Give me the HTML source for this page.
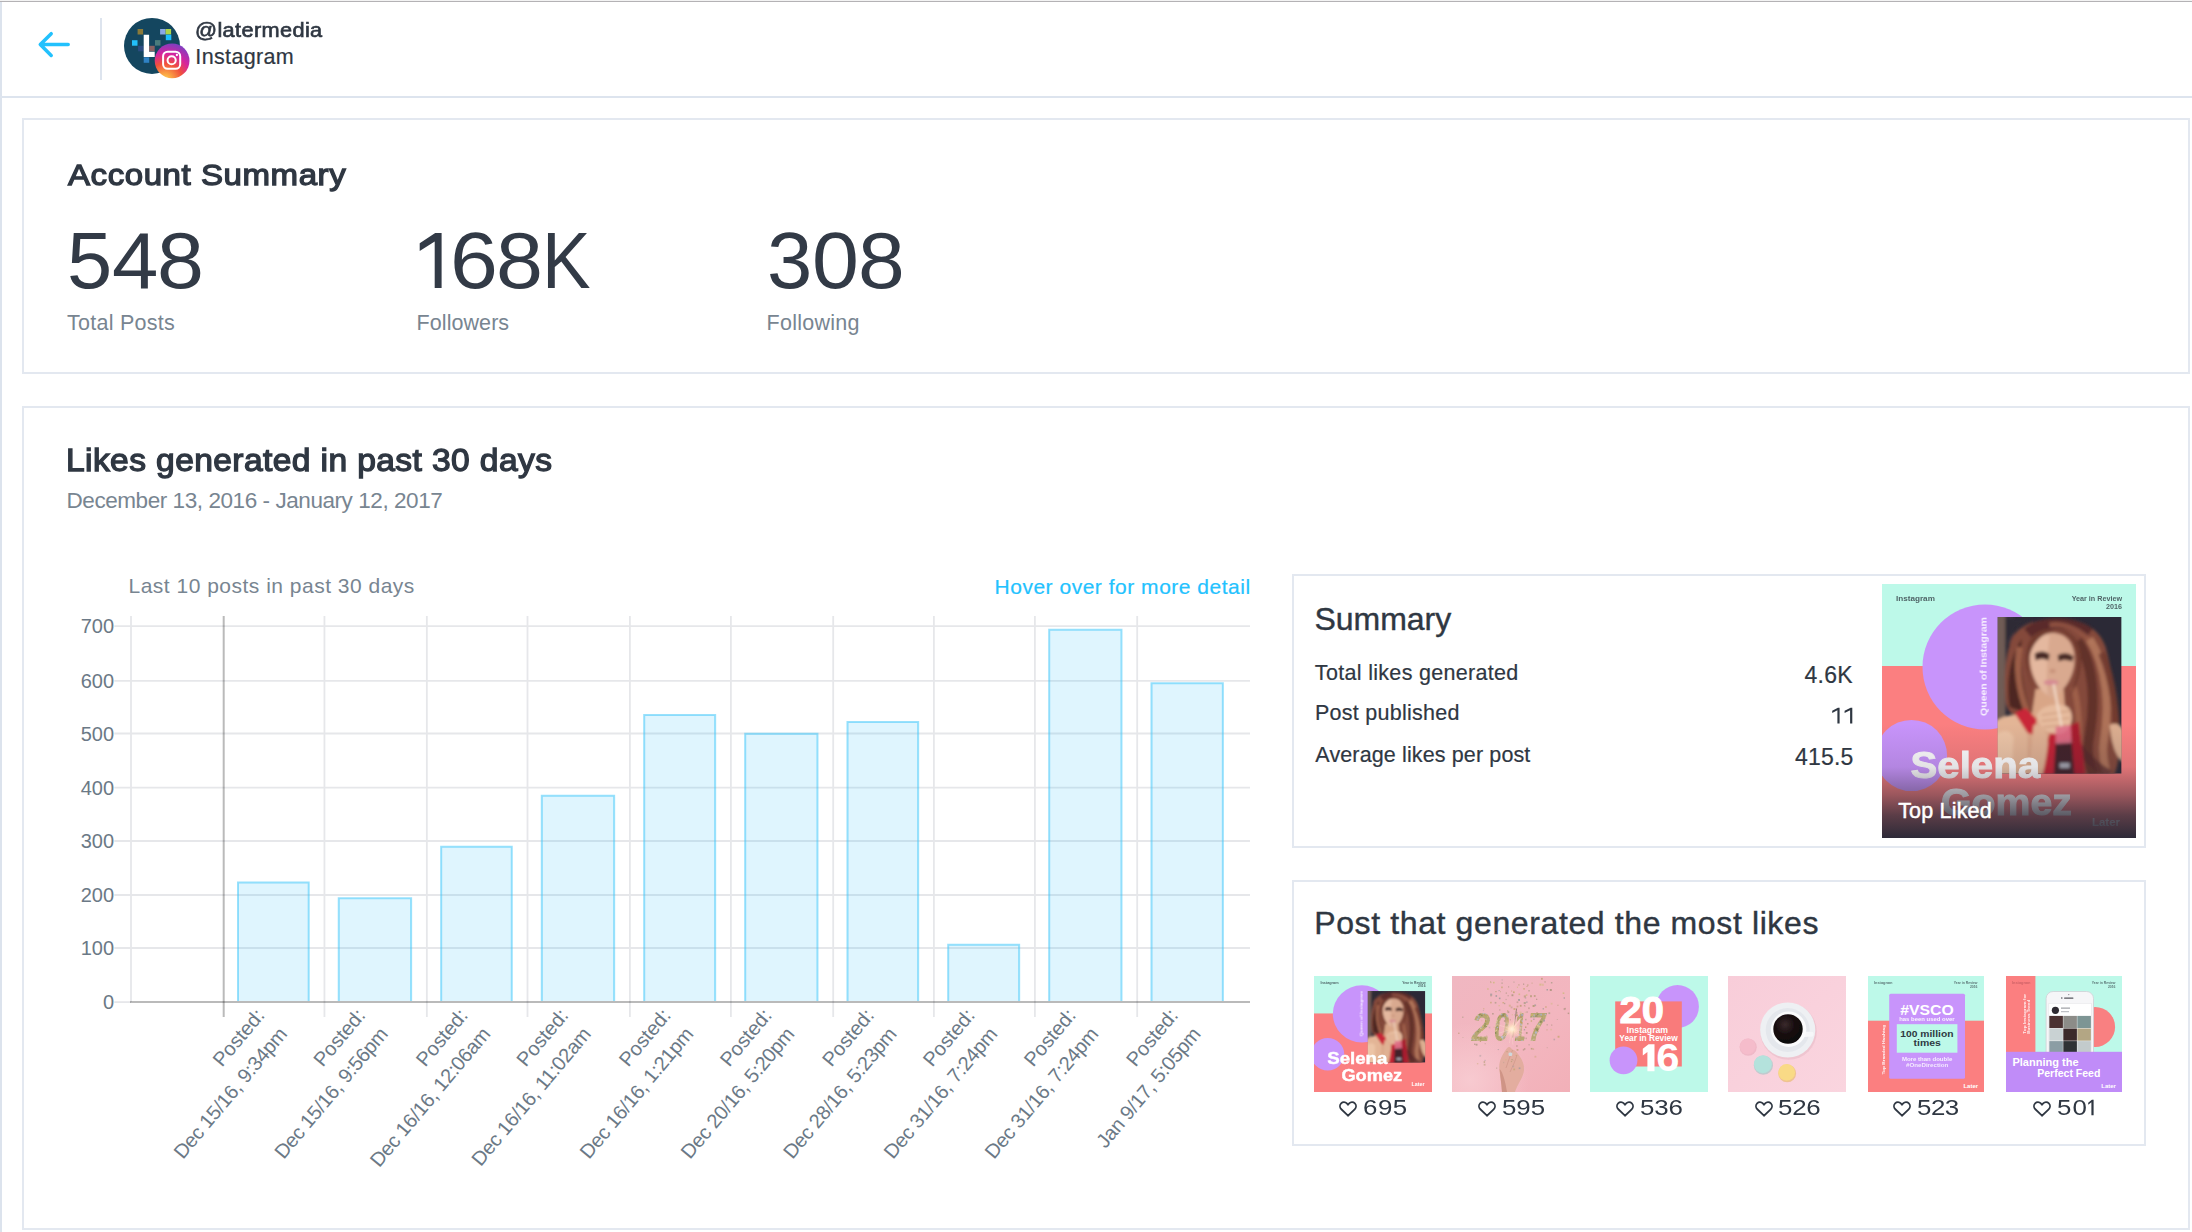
<!DOCTYPE html>
<html><head><meta charset="utf-8"><title>Analytics</title>
<style>
html,body{margin:0;padding:0;background:#fff}
body{width:2192px;height:1232px;position:relative;overflow:hidden;font-family:"Liberation Sans",sans-serif}
.t{position:absolute;top:0;white-space:nowrap;line-height:0}
.t i{display:inline-block;width:0}
.card{position:absolute;border:2px solid #e3e8f0;background:#fff}
svg{display:block}
svg text{font-family:"Liberation Sans",sans-serif}
</style></head><body>
<div style="position:absolute;left:0;top:0;width:2192px;height:1px;background:#f3f3f3"></div><div style="position:absolute;left:0;top:1px;width:2192px;height:1px;background:#b4b2b5"></div>
<div style="position:absolute;left:0;top:2px;width:2px;height:1230px;background:#dce3ed"></div>
<div style="position:absolute;left:0;top:96px;width:2192px;height:2px;background:#dde4ee"></div>
<div style="position:absolute;left:100px;top:18px;width:2px;height:62px;background:#dde4ee"></div>
<svg style="position:absolute;left:30px;top:24px" width="48" height="42" viewBox="30 24 48 42"><path d="M68.2 44.6H40.3M51.2 33.7L40.3 44.6L51.2 55.5" fill="none" stroke="#22c1fd" stroke-width="3.5" stroke-linecap="round" stroke-linejoin="round"/></svg>
<div class="card" style="left:22px;top:118px;width:2164px;height:252px"></div>
<div class="card" style="left:22px;top:406px;width:2164px;height:820px"></div>
<div class="card" style="left:1292px;top:574px;width:850px;height:270px"></div>
<div class="card" style="left:1292px;top:880px;width:850px;height:262px"></div>
<div class="t" style="font-size:20.5px;color:#2f3742;letter-spacing:0.344px;left:195.22px;transform:scaleX(1.0600);transform-origin:0 0;-webkit-text-stroke:.65px #2f3742;"><i style="height:37.20px"></i>@latermedia</div>
<div class="t" style="font-size:21.5px;color:#2f3742;letter-spacing:0.346px;left:195.37px;-webkit-text-stroke:.2px #2f3742;"><i style="height:63.80px"></i>Instagram</div>
<div class="t" style="font-size:30px;color:#2f3742;letter-spacing:0.525px;left:68.00px;transform:scaleX(1.1000);transform-origin:0 0;-webkit-text-stroke:1.3px #2f3742;"><i style="height:185.10px"></i>Account Summary</div>
<div class="t" style="font-size:80.5px;color:#323a46;left:67.35px;transform:scaleX(1.0095);transform-origin:0 0;"><i style="height:287.90px"></i>5</div><div class="t" style="font-size:80.5px;color:#323a46;left:112.02px;transform:scaleX(1.0356);transform-origin:0 0;"><i style="height:287.90px"></i>4</div><div class="t" style="font-size:80.5px;color:#323a46;left:157.41px;transform:scaleX(1.0490);transform-origin:0 0;"><i style="height:287.90px"></i>8</div>
<div class="t" style="font-size:80.5px;color:#323a46;left:449.50px;transform:scaleX(1.0690);transform-origin:0 0;"><i style="height:287.90px"></i>6</div><div class="t" style="font-size:80.5px;color:#323a46;left:496.11px;transform:scaleX(1.0490);transform-origin:0 0;"><i style="height:287.90px"></i>8</div><div class="t" style="font-size:80.5px;color:#323a46;left:541.97px;transform:scaleX(0.9056);transform-origin:0 0;"><i style="height:287.90px"></i>K</div>
<svg style="position:absolute;left:415px;top:230px" width="30" height="60" viewBox="415 230 30 60"><path d="M441.6 233.1H435.2L419.7 243.3V251.1L434.7 241.4V288H441.6Z" fill="#323a46"/></svg>
<div class="t" style="font-size:80.5px;color:#323a46;left:766.64px;transform:scaleX(1.0121);transform-origin:0 0;"><i style="height:287.90px"></i>3</div><div class="t" style="font-size:80.5px;color:#323a46;left:811.84px;transform:scaleX(1.0481);transform-origin:0 0;"><i style="height:287.90px"></i>0</div><div class="t" style="font-size:80.5px;color:#323a46;left:858.23px;transform:scaleX(1.0437);transform-origin:0 0;"><i style="height:287.90px"></i>8</div>
<div class="t" style="font-size:21.5px;color:#788591;letter-spacing:0.259px;left:66.97px;"><i style="height:329.60px"></i>Total Posts</div>
<div class="t" style="font-size:21.5px;color:#788591;letter-spacing:0.069px;left:416.58px;"><i style="height:329.60px"></i>Followers</div>
<div class="t" style="font-size:21.5px;color:#788591;letter-spacing:0.248px;left:766.58px;"><i style="height:329.60px"></i>Following</div>
<div class="t" style="font-size:32px;color:#2f3742;letter-spacing:0.366px;left:66.21px;transform:scaleX(1.0500);transform-origin:0 0;-webkit-text-stroke:1.3px #2f3742;"><i style="height:471.30px"></i>Likes generated in past 30 days</div>
<div class="t" style="font-size:22.5px;color:#788591;letter-spacing:-0.435px;left:66.50px;"><i style="height:508.00px"></i>December 13, 2016 - January 12, 2017</div>
<div class="t" style="font-size:21px;color:#788591;letter-spacing:0.493px;left:128.52px;"><i style="height:593.40px"></i>Last 10 posts in past 30 days</div>
<div class="t" style="font-size:21px;color:#23c2fe;letter-spacing:0.515px;left:994.52px;-webkit-text-stroke:.2px #23c2fe;"><i style="height:593.60px"></i>Hover over for more detail</div>
<div class="t" style="font-size:32px;color:#2f3742;letter-spacing:-0.040px;left:1314.56px;-webkit-text-stroke:.4px #2f3742;"><i style="height:630.20px"></i>Summary</div>
<div class="t" style="font-size:21.5px;color:#2f3742;letter-spacing:0.313px;left:1314.87px;-webkit-text-stroke:.2px #2f3742;"><i style="height:680.00px"></i>Total likes generated</div>
<div class="t" style="font-size:21.5px;color:#2f3742;letter-spacing:0.279px;left:1314.88px;-webkit-text-stroke:.2px #2f3742;"><i style="height:719.70px"></i>Post published</div>
<div class="t" style="font-size:21.5px;color:#2f3742;letter-spacing:0.128px;left:1315.30px;-webkit-text-stroke:.2px #2f3742;"><i style="height:762.00px"></i>Average likes per post</div>
<div class="t" style="font-size:23px;color:#2f3742;letter-spacing:0.342px;left:1804.38px;-webkit-text-stroke:.2px #2f3742;"><i style="height:683.10px"></i>4.6K</div>
<svg style="position:absolute;left:1830px;top:705px" width="13" height="21" viewBox="1830 705 13 21"><path d="M1839.60 707.80L1837.90 707.80L1832.20 710.72L1832.20 712.93L1837.40 710.27L1837.40 723.60L1839.60 723.60Z" fill="#2f3742"/></svg><svg style="position:absolute;left:1842px;top:705px" width="13" height="21" viewBox="1842 705 13 21"><path d="M1852.30 707.80L1850.60 707.80L1844.60 710.72L1844.60 712.93L1850.10 710.26L1850.10 723.60L1852.30 723.60Z" fill="#2f3742"/></svg>
<div class="t" style="font-size:23px;color:#2f3742;letter-spacing:0.245px;left:1794.88px;-webkit-text-stroke:.2px #2f3742;"><i style="height:765.20px"></i>415.5</div>
<div class="t" style="font-size:32px;color:#2f3742;letter-spacing:0.616px;left:1314.24px;-webkit-text-stroke:.4px #2f3742;"><i style="height:934.00px"></i>Post that generated the most likes</div>
<svg style="position:absolute;left:60px;top:600px" width="1210" height="600" viewBox="60 600 1210 600">
<g stroke="#e6e7ea" stroke-width="1.8">
<path d="M131 616V1002.1"/>
<path d="M324.45 616V1017"/>
<path d="M426.86 616V1017"/>
<path d="M527.50 616V1017"/>
<path d="M629.90 616V1017"/>
<path d="M730.90 616V1017"/>
<path d="M833.20 616V1017"/>
<path d="M933.90 616V1017"/>
<path d="M1034.90 616V1017"/>
<path d="M1137.20 616V1017"/>
<path d="M114.3 948.00H1250"/>
<path d="M114.3 895.00H1250"/>
<path d="M114.3 841.00H1250"/>
<path d="M114.3 787.60H1250"/>
<path d="M114.3 733.50H1250"/>
<path d="M114.3 680.80H1250"/>
<path d="M114.3 626.10H1250"/>
<path d="M114.3 1002.1H131"/>
</g>
<g stroke="#000" stroke-opacity="0.27" stroke-width="2"><path d="M223.7 616V1017"/><path d="M130 1002.1H1250"/></g>
<path d="M238.00 1001.1V882.62H308.70V1001.1" fill="rgba(41,190,247,0.15)" stroke="rgba(60,198,250,0.52)" stroke-width="2"/>
<path d="M338.75 1001.1V898.15H411.11V1001.1" fill="rgba(41,190,247,0.15)" stroke="rgba(60,198,250,0.52)" stroke-width="2"/>
<path d="M441.16 1001.1V846.72H511.75V1001.1" fill="rgba(41,190,247,0.15)" stroke="rgba(60,198,250,0.52)" stroke-width="2"/>
<path d="M541.80 1001.1V795.82H614.15V1001.1" fill="rgba(41,190,247,0.15)" stroke="rgba(60,198,250,0.52)" stroke-width="2"/>
<path d="M644.20 1001.1V714.91H715.15V1001.1" fill="rgba(41,190,247,0.15)" stroke="rgba(60,198,250,0.52)" stroke-width="2"/>
<path d="M745.20 1001.1V733.66H817.45V1001.1" fill="rgba(41,190,247,0.15)" stroke="rgba(60,198,250,0.52)" stroke-width="2"/>
<path d="M847.50 1001.1V721.88H918.15V1001.1" fill="rgba(41,190,247,0.15)" stroke="rgba(60,198,250,0.52)" stroke-width="2"/>
<path d="M948.20 1001.1V944.77H1019.15V1001.1" fill="rgba(41,190,247,0.15)" stroke="rgba(60,198,250,0.52)" stroke-width="2"/>
<path d="M1049.20 1001.1V629.72H1121.45V1001.1" fill="rgba(41,190,247,0.15)" stroke="rgba(60,198,250,0.52)" stroke-width="2"/>
<path d="M1151.50 1001.1V683.30H1222.85V1001.1" fill="rgba(41,190,247,0.15)" stroke="rgba(60,198,250,0.52)" stroke-width="2"/>
<g font-size="20" fill="#6b7986" text-anchor="end">
<text x="114.1" y="1009.10">0</text>
<text x="114.1" y="955.00">100</text>
<text x="114.1" y="902.00">200</text>
<text x="114.1" y="848.00">300</text>
<text x="114.1" y="794.60">400</text>
<text x="114.1" y="740.50">500</text>
<text x="114.1" y="687.80">600</text>
<text x="114.1" y="633.10">700</text>
</g>
<g font-size="20" fill="#6b7986" text-anchor="end">
<g transform="translate(265.60 1015.9) rotate(-50)"><text x="0" y="0">Posted:</text><text x="0" y="29.3" letter-spacing="-0.32">Dec 15/16, 9:34pm</text></g>
<g transform="translate(366.35 1015.9) rotate(-50)"><text x="0" y="0">Posted:</text><text x="0" y="29.3" letter-spacing="-0.32">Dec 15/16, 9:56pm</text></g>
<g transform="translate(468.76 1015.9) rotate(-50)"><text x="0" y="0">Posted:</text><text x="0" y="29.3" letter-spacing="-0.32">Dec 16/16, 12:06am</text></g>
<g transform="translate(569.40 1015.9) rotate(-50)"><text x="0" y="0">Posted:</text><text x="0" y="29.3" letter-spacing="-0.32">Dec 16/16, 11:02am</text></g>
<g transform="translate(671.80 1015.9) rotate(-50)"><text x="0" y="0">Posted:</text><text x="0" y="29.3" letter-spacing="-0.32">Dec 16/16, 1:21pm</text></g>
<g transform="translate(772.80 1015.9) rotate(-50)"><text x="0" y="0">Posted:</text><text x="0" y="29.3" letter-spacing="-0.32">Dec 20/16, 5:20pm</text></g>
<g transform="translate(875.10 1015.9) rotate(-50)"><text x="0" y="0">Posted:</text><text x="0" y="29.3" letter-spacing="-0.32">Dec 28/16, 5:23pm</text></g>
<g transform="translate(975.80 1015.9) rotate(-50)"><text x="0" y="0">Posted:</text><text x="0" y="29.3" letter-spacing="-0.32">Dec 31/16, 7:24pm</text></g>
<g transform="translate(1076.80 1015.9) rotate(-50)"><text x="0" y="0">Posted:</text><text x="0" y="29.3" letter-spacing="-0.32">Dec 31/16, 7:24pm</text></g>
<g transform="translate(1179.10 1015.9) rotate(-50)"><text x="0" y="0">Posted:</text><text x="0" y="29.3" letter-spacing="-0.32">Jan 9/17, 5:05pm</text></g>
</g>
</svg>
<svg style="position:absolute;left:1314px;top:976px" width="118" height="116" viewBox="0 0 118 116"><svg width="118" height="116" viewBox="0 0 254 254" preserveAspectRatio="none"><rect width="254" height="254" fill="#fb7f80"/><rect width="254" height="82" fill="#bdf9e9"/>
<circle cx="103" cy="83" r="62.5" fill="#c894fb"/><circle cx="29.5" cy="171.5" r="35.6" fill="#c894fb"/>
<text transform="translate(104.6 132) rotate(-90)" font-size="9.2" font-weight="700" fill="#fff" opacity=".85" filter="url(#b1)" textLength="99" lengthAdjust="spacingAndGlyphs">Queen of Instagram</text>
<g transform="translate(115.6 33)"><g clip-path="url(#phc)">
<rect width="124" height="157" fill="#2b2936"/>
<g filter="url(#b3)">
<rect x="-3" y="-3" width="11" height="106" fill="#6f5b55"/>
<rect x="8" y="-3" width="8" height="30" fill="#37323c"/>
<path d="M8 30C12 14 24 4 40 2L8 2Z" fill="#2f2a34"/>
<path d="M14 22C22 6 44 1 62 2C86 3 102 12 108 30C114 52 118 80 121 104C124 124 122 146 116 160L62 160L60 96L36 100C24 104 10 100 8 84C6 60 8 38 14 22Z" fill="#84483a"/>
<path d="M12 90C8 66 12 40 24 22C22 44 24 70 34 98Z" fill="#4e2722"/>
<path d="M22 30C18 52 22 76 30 96" fill="none" stroke="#a9674e" stroke-width="6" opacity=".85"/>
<path d="M30 16C44 4 72 2 92 16" fill="none" stroke="#55292a" stroke-width="11" opacity=".9"/>
<path d="M52 8C66 6 84 12 96 28" fill="none" stroke="#9a5a46" stroke-width="5" opacity=".8"/>
<path d="M80 24C96 46 98 84 92 118C88 136 92 150 96 160" fill="none" stroke="#5a2b27" stroke-width="10" opacity=".8"/>
<path d="M92 22C110 50 112 92 106 126C104 140 108 152 110 160" fill="none" stroke="#b57a5e" stroke-width="8" opacity=".85"/>
<path d="M104 36C116 64 120 100 118 130" fill="none" stroke="#6e382e" stroke-width="7" opacity=".85"/>
<path d="M76 70C84 96 80 128 84 160" fill="none" stroke="#a5644c" stroke-width="6" opacity=".8"/>
<path d="M70 112C76 130 98 150 112 158" fill="none" stroke="#55282a" stroke-width="9" opacity=".7"/>
<path d="M112 108C120 104 128 110 128 124L128 146C120 144 114 130 112 108Z" fill="#dcae90"/>
<path d="M-4 106C6 97 24 95 32 102C36 120 36 140 40 160L-4 160Z" fill="#e3b596"/>
<path d="M-4 120C4 112 12 112 16 120L14 160L-4 160Z" fill="#ecc4a6"/>
<path d="M30 96L70 94L78 160L30 160Z" fill="#d9a688"/>
<path d="M38 72L66 72L68 100L34 100Z" fill="#d9a687"/>
<path d="M32 40C32 24 42 16 55 16C68 16 77 26 77 42C77 58 68 74 54 81C42 76 32 58 32 40Z" fill="#d9a98f"/>
<path d="M33 40C33 26 42 18 52 18C50 36 48 56 50 78C40 72 33 56 33 40Z" fill="#e4b89f"/>
<path d="M57 14C46 16 34 24 31 44C30 54 33 64 36 72C30 60 24 40 32 24C38 14 48 10 57 14Z" fill="#6f3a2f"/>
<path d="M57 14C70 14 80 24 80 44C80 58 76 70 72 80C84 62 88 36 78 22C72 14 64 12 57 14Z" fill="#6f3a2f"/>
<path d="M37 37C42 33.5 48 34 52 37.5L51 43.5C47 41.5 42 41.5 38 43.5Z" fill="#4a2a26"/>
<path d="M60 38.5C65 35 71 35.5 76 39.5L74.5 44.5C70 42.5 65 42.5 61 44.5Z" fill="#4a2a26"/>
<ellipse cx="55" cy="54" rx="3" ry="2.2" fill="#c8937a"/>
<ellipse cx="53.5" cy="65.5" rx="7.5" ry="2.8" fill="#d58a92"/>
<path d="M17 96L28 91L39 102L37 118L30 116Z" fill="#c92838"/>
<path d="M52 117L81 105L88 160L43 160L47 131Z" fill="#c32434"/>
<path d="M64 112L81 105L88 160L70 160Z" fill="#a81d2e"/>
<path d="M39 98C44 88 60 85 70 90C77 96 75 110 66 116C54 120 40 112 39 98Z" fill="#e6bb9e"/>
<path d="M36 108C44 106 52 116 50 130C48 146 46 154 44 160L30 160C34 140 34 122 36 108Z" fill="#e0b193"/>
<path d="M44 98L72 94M44 104L72 101M46 110L70 108" stroke="#c99476" stroke-width="1.4" opacity=".7"/>
<path d="M56 67L64 110" stroke="#f4dccb" stroke-width="2.2" opacity=".95"/>
<path d="M58 124L74 122L77 160L56 160Z" fill="#43212a"/>
<path d="M58 110L73 108L74 126L58 127Z" fill="#e07088" opacity=".9"/>
<rect x="62" y="146" width="10" height="5" fill="#b6bcc8" opacity=".85"/>
</g>
</g></g>
<g font-weight="700" fill="#3c4a50" font-size="7.2" filter="url(#b1)" opacity=".85"><text x="13.9" y="16.6" textLength="39" lengthAdjust="spacingAndGlyphs">Instagram</text><text x="240" y="16.6" text-anchor="end">Year in Review</text><text x="240" y="25.2" text-anchor="end">2016</text></g>
<g font-weight="700" fill="#fff" stroke="#fff" stroke-width=".9" filter="url(#b1)"><text x="28.5" y="193.7" font-size="37.5" textLength="129.5" lengthAdjust="spacingAndGlyphs">Selena</text><text x="59" y="231" font-size="37.5" textLength="131" lengthAdjust="spacingAndGlyphs">Gomez</text>
<text x="210" y="241.5" font-size="11.5" textLength="28" lengthAdjust="spacingAndGlyphs" stroke="none">Later</text></g></svg></svg>
<svg style="position:absolute;left:1339.3px;top:1101.3px" width="18" height="16" viewBox="0 0 17.7 15.3"><path d="M8.85 14.2L2.3 7.9C0.6 6.2 0.5 3.7 2.1 2.1C3.7 0.5 6.2 0.6 7.7 2.2L8.85 3.5L10 2.2C11.5 0.6 14 0.5 15.6 2.1C17.2 3.7 17.1 6.2 15.4 7.9Z" fill="none" stroke="#2f3742" stroke-width="1.75" stroke-linejoin="miter"/></svg>
<div class="t" style="font-size:22.5px;color:#2f3742;letter-spacing:0.427px;left:1362.51px;transform:scaleX(1.1500);transform-origin:0 0;"><i style="height:1115.30px"></i>695</div>
<svg style="position:absolute;left:1452px;top:976px" width="118" height="116" viewBox="0 0 118 116"><defs><radialGradient id="spk"><stop offset="0" stop-color="#fffbe8"/><stop offset=".22" stop-color="#ffe6c4" stop-opacity=".9"/><stop offset=".6" stop-color="#f8c8b8" stop-opacity=".45"/><stop offset="1" stop-color="#f4b8c0" stop-opacity="0"/></radialGradient>
<linearGradient id="pk2" x1="0" y1="0" x2="1" y2="1"><stop offset="0" stop-color="#f0b7c1"/><stop offset=".6" stop-color="#f3b6bf"/><stop offset="1" stop-color="#f2b0b8"/></linearGradient>
<radialGradient id="pk2b" cx=".15" cy=".9" r=".5"><stop offset="0" stop-color="#f8ccd2" stop-opacity=".9"/><stop offset="1" stop-color="#f8ccd2" stop-opacity="0"/></radialGradient>
<clipPath id="c17"><text x="19.5" y="64.7" font-size="40" font-weight="700" font-style="italic" textLength="18.6" lengthAdjust="spacingAndGlyphs">2</text><text x="41.8" y="64.7" font-size="40" font-weight="700" font-style="italic" textLength="15.5" lengthAdjust="spacingAndGlyphs">0</text><text x="62.5" y="64.7" font-size="40" font-weight="700" font-style="italic" textLength="11" lengthAdjust="spacingAndGlyphs">1</text><text x="76" y="64.7" font-size="40" font-weight="700" font-style="italic" textLength="17.5" lengthAdjust="spacingAndGlyphs">7</text></clipPath></defs>
<rect width="118" height="116" fill="url(#pk2)"/><rect width="118" height="116" fill="url(#pk2b)"/>
<g filter="url(#b1)"><path d="M50 116C49.5 108 48 100 47.3 93C46.8 86 49.5 80 53 75C54.5 72.5 56 70.6 57.5 71C59 71.4 59.5 73 60.5 73.5C63 74 65.5 77 67.5 80C70.5 84 72.5 89 72 94C71.5 100 68 105 66 109C64.5 112 63.5 114 63 116Z" fill="#e3ad9f"/><path d="M50 116C49.6 108 48.2 100 47.6 93C50 95 52 101 53.5 108L55 116Z" fill="#cf9486"/><path d="M54 92C56 86 58 80 60.5 74M58 96C61 90 63.5 84 65 79" stroke="#cf9788" stroke-width=".9" fill="none" opacity=".8"/><path d="M60.6 61.5L64.6 32.5" stroke="#8a7468" stroke-width=".8"/><rect x="56.6" y="76.4" width="3.6" height="3.6" rx="1.2" fill="#cfd8dc"/></g>
<g filter="url(#b1)" opacity=".86"><g clip-path="url(#c17)"><rect x="15" y="30" width="85" height="40" fill="#aea468"/><rect x="53.4" y="52.8" width="2.1" height="2.1" fill="#c8bea0"/><rect x="53.3" y="61.7" width="1.3" height="1.3" fill="#c8bea0"/><rect x="66.9" y="59.8" width="1.2" height="1.2" fill="#b39c4a"/><rect x="29.8" y="52.2" width="2.1" height="2.1" fill="#c2b064"/><rect x="64.3" y="47.9" width="1.6" height="1.6" fill="#8e9652"/><rect x="66.4" y="61.0" width="1.2" height="1.2" fill="#c2b064"/><rect x="33.5" y="43.3" width="1.1" height="1.1" fill="#c8bea0"/><rect x="43.8" y="53.7" width="1.3" height="1.3" fill="#d6c68c"/><rect x="67.7" y="51.0" width="1.8" height="1.8" fill="#c8bea0"/><rect x="68.8" y="48.2" width="1.7" height="1.7" fill="#a9b7c4"/><rect x="72.8" y="45.5" width="1.4" height="1.4" fill="#b39c4a"/><rect x="21.3" y="52.9" width="1.2" height="1.2" fill="#a9b7c4"/><rect x="83.3" y="47.6" width="2.2" height="2.2" fill="#c2b064"/><rect x="35.2" y="63.8" width="1.2" height="1.2" fill="#7d8748"/><rect x="93.5" y="47.9" width="1.2" height="1.2" fill="#d6c68c"/><rect x="78.2" y="44.1" width="1.2" height="1.2" fill="#9dacb4"/><rect x="20.2" y="48.3" width="2.1" height="2.1" fill="#8e9652"/><rect x="37.7" y="39.0" width="1.2" height="1.2" fill="#c8bea0"/><rect x="32.5" y="52.8" width="1.6" height="1.6" fill="#d6c68c"/><rect x="93.9" y="59.1" width="1.6" height="1.6" fill="#7d8748"/><rect x="27.9" y="48.6" width="1.3" height="1.3" fill="#b39c4a"/><rect x="84.7" y="65.2" width="1.8" height="1.8" fill="#c2b064"/><rect x="35.0" y="47.8" width="2.0" height="2.0" fill="#a9b7c4"/><rect x="22.2" y="40.4" width="1.6" height="1.6" fill="#c2b064"/><rect x="77.7" y="45.9" width="1.4" height="1.4" fill="#a9b7c4"/><rect x="24.6" y="42.3" width="1.8" height="1.8" fill="#c2b064"/><rect x="64.7" y="47.2" width="1.6" height="1.6" fill="#c8bea0"/><rect x="82.3" y="40.1" width="1.5" height="1.5" fill="#8e9652"/><rect x="42.6" y="42.9" width="1.8" height="1.8" fill="#d6c68c"/><rect x="31.0" y="54.9" width="1.7" height="1.7" fill="#7d8748"/><rect x="86.0" y="54.1" width="1.6" height="1.6" fill="#a9b7c4"/><rect x="27.3" y="51.4" width="1.4" height="1.4" fill="#7d8748"/><rect x="38.5" y="60.7" width="1.8" height="1.8" fill="#b39c4a"/><rect x="58.5" y="63.9" width="2.2" height="2.2" fill="#8e9652"/><rect x="36.4" y="52.8" width="2.0" height="2.0" fill="#a9b7c4"/><rect x="40.3" y="63.5" width="1.3" height="1.3" fill="#c2b064"/><rect x="24.3" y="48.3" width="1.4" height="1.4" fill="#c2b064"/><rect x="32.4" y="47.1" width="1.7" height="1.7" fill="#8e9652"/><rect x="26.0" y="40.2" width="1.6" height="1.6" fill="#9dacb4"/><rect x="68.9" y="56.7" width="1.7" height="1.7" fill="#8e9652"/><rect x="63.8" y="63.7" width="1.6" height="1.6" fill="#9dacb4"/><rect x="72.3" y="64.9" width="1.1" height="1.1" fill="#a9b7c4"/><rect x="55.6" y="57.9" width="1.5" height="1.5" fill="#a9b7c4"/><rect x="24.7" y="52.4" width="1.9" height="1.9" fill="#8e9652"/><rect x="79.3" y="63.5" width="1.5" height="1.5" fill="#c8bea0"/><rect x="87.5" y="62.1" width="1.6" height="1.6" fill="#c2b064"/><rect x="84.6" y="53.2" width="1.8" height="1.8" fill="#7d8748"/><rect x="47.8" y="36.4" width="1.2" height="1.2" fill="#a9b7c4"/><rect x="67.6" y="65.8" width="2.1" height="2.1" fill="#9dacb4"/><rect x="48.5" y="58.1" width="1.7" height="1.7" fill="#c8bea0"/><rect x="54.2" y="52.2" width="1.7" height="1.7" fill="#c2b064"/><rect x="42.6" y="38.6" width="1.1" height="1.1" fill="#a9b7c4"/><rect x="56.8" y="54.4" width="2.1" height="2.1" fill="#b39c4a"/><rect x="87.1" y="47.0" width="1.3" height="1.3" fill="#d6c68c"/><rect x="58.4" y="58.6" width="1.5" height="1.5" fill="#c8bea0"/><rect x="56.9" y="43.2" width="1.5" height="1.5" fill="#b39c4a"/><rect x="34.1" y="48.9" width="2.0" height="2.0" fill="#d6c68c"/><rect x="85.9" y="47.5" width="1.7" height="1.7" fill="#9dacb4"/><rect x="35.0" y="40.0" width="1.5" height="1.5" fill="#c2b064"/><rect x="73.1" y="64.5" width="1.4" height="1.4" fill="#8e9652"/><rect x="27.6" y="50.1" width="2.1" height="2.1" fill="#7d8748"/><rect x="48.1" y="51.6" width="1.8" height="1.8" fill="#c8bea0"/><rect x="43.3" y="60.9" width="1.4" height="1.4" fill="#c2b064"/><rect x="70.5" y="44.4" width="1.5" height="1.5" fill="#c2b064"/><rect x="67.7" y="48.2" width="1.3" height="1.3" fill="#b39c4a"/><rect x="37.0" y="40.2" width="1.2" height="1.2" fill="#a9b7c4"/><rect x="52.9" y="54.9" width="1.8" height="1.8" fill="#9dacb4"/><rect x="91.8" y="56.5" width="1.3" height="1.3" fill="#c8bea0"/><rect x="38.5" y="57.4" width="1.9" height="1.9" fill="#c2b064"/><rect x="32.6" y="44.2" width="1.5" height="1.5" fill="#8e9652"/><rect x="48.9" y="59.8" width="2.1" height="2.1" fill="#a9b7c4"/><rect x="50.2" y="62.8" width="1.5" height="1.5" fill="#c8bea0"/><rect x="53.5" y="54.8" width="2.1" height="2.1" fill="#7d8748"/><rect x="60.8" y="55.6" width="1.7" height="1.7" fill="#9dacb4"/><rect x="54.2" y="55.5" width="1.3" height="1.3" fill="#a9b7c4"/><rect x="35.2" y="63.0" width="2.2" height="2.2" fill="#b39c4a"/><rect x="59.8" y="59.7" width="1.5" height="1.5" fill="#c2b064"/><rect x="45.5" y="38.5" width="1.6" height="1.6" fill="#7d8748"/><rect x="77.4" y="50.6" width="1.1" height="1.1" fill="#a9b7c4"/><rect x="51.6" y="37.1" width="1.7" height="1.7" fill="#8e9652"/><rect x="54.8" y="66.0" width="2.1" height="2.1" fill="#c8bea0"/><rect x="90.9" y="50.8" width="2.1" height="2.1" fill="#a9b7c4"/><rect x="76.6" y="49.2" width="1.7" height="1.7" fill="#8e9652"/><rect x="58.7" y="61.3" width="1.7" height="1.7" fill="#b39c4a"/><rect x="70.0" y="64.6" width="2.1" height="2.1" fill="#d6c68c"/><rect x="42.1" y="40.2" width="1.7" height="1.7" fill="#b39c4a"/><rect x="62.5" y="42.0" width="1.7" height="1.7" fill="#c2b064"/><rect x="65.0" y="36.8" width="2.2" height="2.2" fill="#7d8748"/><rect x="60.3" y="65.7" width="1.2" height="1.2" fill="#a9b7c4"/><rect x="71.5" y="38.0" width="1.7" height="1.7" fill="#7d8748"/><rect x="89.0" y="60.0" width="1.5" height="1.5" fill="#d6c68c"/><rect x="55.0" y="39.8" width="1.6" height="1.6" fill="#c8bea0"/><rect x="58.9" y="39.3" width="1.6" height="1.6" fill="#c2b064"/><rect x="89.3" y="39.9" width="2.0" height="2.0" fill="#c2b064"/><rect x="21.7" y="40.7" width="1.1" height="1.1" fill="#b39c4a"/><rect x="43.5" y="46.7" width="1.8" height="1.8" fill="#a9b7c4"/><rect x="57.0" y="53.5" width="2.0" height="2.0" fill="#b39c4a"/><rect x="73.5" y="57.0" width="2.1" height="2.1" fill="#c2b064"/><rect x="47.6" y="48.4" width="1.7" height="1.7" fill="#8e9652"/><rect x="59.9" y="61.9" width="1.7" height="1.7" fill="#d6c68c"/><rect x="59.3" y="61.5" width="1.8" height="1.8" fill="#8e9652"/><rect x="36.7" y="58.2" width="2.0" height="2.0" fill="#8e9652"/><rect x="43.0" y="45.4" width="2.1" height="2.1" fill="#d6c68c"/><rect x="78.2" y="41.8" width="1.2" height="1.2" fill="#d6c68c"/><rect x="29.1" y="38.6" width="1.5" height="1.5" fill="#7d8748"/><rect x="82.2" y="48.6" width="2.0" height="2.0" fill="#8e9652"/><rect x="34.2" y="54.8" width="2.0" height="2.0" fill="#a9b7c4"/><rect x="34.3" y="56.5" width="2.1" height="2.1" fill="#9dacb4"/><rect x="27.8" y="51.2" width="1.9" height="1.9" fill="#d6c68c"/><rect x="80.0" y="50.5" width="1.1" height="1.1" fill="#c8bea0"/><rect x="30.1" y="41.5" width="1.3" height="1.3" fill="#8e9652"/><rect x="94.3" y="63.8" width="1.2" height="1.2" fill="#c2b064"/><rect x="29.2" y="56.4" width="1.2" height="1.2" fill="#a9b7c4"/><rect x="43.8" y="50.0" width="1.7" height="1.7" fill="#7d8748"/><rect x="35.0" y="47.2" width="1.8" height="1.8" fill="#c2b064"/><rect x="83.2" y="41.4" width="1.6" height="1.6" fill="#9dacb4"/><rect x="49.8" y="41.9" width="1.3" height="1.3" fill="#c2b064"/><rect x="43.6" y="38.5" width="2.0" height="2.0" fill="#7d8748"/><rect x="62.3" y="41.7" width="1.7" height="1.7" fill="#9dacb4"/><rect x="80.2" y="43.7" width="2.1" height="2.1" fill="#8e9652"/><rect x="80.9" y="48.2" width="2.1" height="2.1" fill="#9dacb4"/><rect x="77.3" y="59.0" width="1.5" height="1.5" fill="#8e9652"/><rect x="24.4" y="46.3" width="1.6" height="1.6" fill="#c2b064"/><rect x="86.5" y="65.7" width="2.1" height="2.1" fill="#c2b064"/><rect x="36.6" y="64.3" width="1.8" height="1.8" fill="#9dacb4"/><rect x="35.4" y="48.2" width="1.3" height="1.3" fill="#a9b7c4"/><rect x="48.6" y="66.0" width="1.8" height="1.8" fill="#a9b7c4"/><rect x="76.9" y="65.4" width="1.1" height="1.1" fill="#a9b7c4"/><rect x="75.1" y="43.7" width="1.5" height="1.5" fill="#c2b064"/><rect x="76.9" y="55.4" width="1.1" height="1.1" fill="#b39c4a"/><rect x="38.1" y="63.2" width="1.7" height="1.7" fill="#7d8748"/><rect x="92.5" y="53.0" width="2.2" height="2.2" fill="#c8bea0"/><rect x="80.5" y="38.3" width="1.8" height="1.8" fill="#c2b064"/><rect x="48.4" y="64.2" width="1.5" height="1.5" fill="#8e9652"/><rect x="84.0" y="52.3" width="1.8" height="1.8" fill="#7d8748"/><rect x="90.8" y="48.6" width="1.7" height="1.7" fill="#b39c4a"/><rect x="46.8" y="44.6" width="1.8" height="1.8" fill="#b39c4a"/><rect x="69.4" y="58.4" width="1.1" height="1.1" fill="#d6c68c"/><rect x="63.5" y="55.0" width="1.5" height="1.5" fill="#7d8748"/><rect x="23.0" y="45.5" width="1.5" height="1.5" fill="#9dacb4"/><rect x="24.6" y="63.2" width="1.6" height="1.6" fill="#c8bea0"/><rect x="38.1" y="58.7" width="1.1" height="1.1" fill="#a9b7c4"/><rect x="90.2" y="57.7" width="1.6" height="1.6" fill="#d6c68c"/><rect x="64.9" y="39.5" width="1.8" height="1.8" fill="#c8bea0"/><rect x="28.0" y="61.8" width="1.5" height="1.5" fill="#8e9652"/><rect x="28.4" y="49.3" width="1.8" height="1.8" fill="#c8bea0"/><rect x="64.7" y="55.2" width="1.9" height="1.9" fill="#9dacb4"/><rect x="78.1" y="51.9" width="2.2" height="2.2" fill="#b39c4a"/><rect x="74.8" y="43.2" width="1.2" height="1.2" fill="#b39c4a"/><rect x="78.6" y="54.7" width="1.5" height="1.5" fill="#b39c4a"/><rect x="65.3" y="57.8" width="1.9" height="1.9" fill="#d6c68c"/><rect x="67.1" y="58.6" width="1.3" height="1.3" fill="#d6c68c"/><rect x="57.2" y="55.6" width="1.3" height="1.3" fill="#c2b064"/><rect x="66.8" y="36.3" width="1.4" height="1.4" fill="#c2b064"/><rect x="66.4" y="39.1" width="1.7" height="1.7" fill="#a9b7c4"/><rect x="76.4" y="63.4" width="1.3" height="1.3" fill="#d6c68c"/><rect x="67.0" y="47.2" width="1.6" height="1.6" fill="#d6c68c"/><rect x="44.7" y="50.8" width="1.2" height="1.2" fill="#a9b7c4"/><rect x="80.0" y="49.4" width="2.0" height="2.0" fill="#d6c68c"/><rect x="52.8" y="58.4" width="1.5" height="1.5" fill="#8e9652"/><rect x="47.0" y="55.6" width="2.2" height="2.2" fill="#9dacb4"/><rect x="41.1" y="58.8" width="2.0" height="2.0" fill="#8e9652"/><rect x="51.5" y="47.1" width="1.2" height="1.2" fill="#9dacb4"/><rect x="25.0" y="38.5" width="1.7" height="1.7" fill="#c8bea0"/><rect x="81.0" y="49.9" width="2.0" height="2.0" fill="#c2b064"/><rect x="24.8" y="42.4" width="1.8" height="1.8" fill="#a9b7c4"/><rect x="71.8" y="50.8" width="1.9" height="1.9" fill="#9dacb4"/><rect x="40.5" y="40.3" width="1.5" height="1.5" fill="#9dacb4"/><rect x="46.8" y="39.5" width="1.9" height="1.9" fill="#b39c4a"/><rect x="52.3" y="60.1" width="1.4" height="1.4" fill="#9dacb4"/><rect x="35.8" y="65.0" width="1.9" height="1.9" fill="#d6c68c"/><rect x="25.4" y="60.9" width="1.1" height="1.1" fill="#7d8748"/><rect x="63.4" y="59.9" width="1.9" height="1.9" fill="#9dacb4"/><rect x="79.6" y="52.2" width="2.0" height="2.0" fill="#8e9652"/><rect x="32.4" y="58.8" width="2.1" height="2.1" fill="#b39c4a"/><rect x="80.7" y="42.6" width="1.2" height="1.2" fill="#8e9652"/><rect x="62.1" y="65.0" width="1.8" height="1.8" fill="#7d8748"/><rect x="23.9" y="52.4" width="2.0" height="2.0" fill="#a9b7c4"/><rect x="44.4" y="44.2" width="1.2" height="1.2" fill="#9dacb4"/><rect x="25.4" y="55.0" width="1.3" height="1.3" fill="#7d8748"/><rect x="37.7" y="42.6" width="1.9" height="1.9" fill="#9dacb4"/><rect x="77.1" y="47.8" width="1.5" height="1.5" fill="#9dacb4"/><rect x="70.1" y="50.8" width="1.7" height="1.7" fill="#a9b7c4"/><rect x="72.8" y="63.4" width="1.6" height="1.6" fill="#9dacb4"/><rect x="83.9" y="60.2" width="2.0" height="2.0" fill="#c8bea0"/><rect x="91.8" y="55.2" width="1.7" height="1.7" fill="#c2b064"/><rect x="80.0" y="48.6" width="1.6" height="1.6" fill="#8e9652"/><rect x="37.7" y="40.9" width="1.8" height="1.8" fill="#8e9652"/><rect x="43.4" y="47.7" width="1.7" height="1.7" fill="#b39c4a"/><rect x="92.7" y="37.8" width="1.4" height="1.4" fill="#a9b7c4"/><rect x="42.1" y="40.7" width="2.1" height="2.1" fill="#c2b064"/><rect x="76.2" y="36.5" width="1.6" height="1.6" fill="#c2b064"/><rect x="42.8" y="41.9" width="1.5" height="1.5" fill="#d6c68c"/><rect x="64.6" y="50.2" width="1.7" height="1.7" fill="#c8bea0"/><rect x="33.1" y="44.4" width="1.3" height="1.3" fill="#b39c4a"/><rect x="66.6" y="64.3" width="1.7" height="1.7" fill="#b39c4a"/><rect x="55.8" y="48.1" width="2.2" height="2.2" fill="#a9b7c4"/><rect x="55.7" y="42.6" width="1.2" height="1.2" fill="#8e9652"/><rect x="79.9" y="47.5" width="1.7" height="1.7" fill="#b39c4a"/><rect x="78.9" y="37.7" width="2.1" height="2.1" fill="#c2b064"/><rect x="85.4" y="63.2" width="1.6" height="1.6" fill="#d6c68c"/><rect x="73.2" y="54.2" width="1.3" height="1.3" fill="#8e9652"/><rect x="77.7" y="40.3" width="2.1" height="2.1" fill="#8e9652"/><rect x="67.4" y="65.8" width="1.4" height="1.4" fill="#c2b064"/><rect x="30.4" y="59.1" width="1.1" height="1.1" fill="#8e9652"/><rect x="81.5" y="38.5" width="1.4" height="1.4" fill="#a9b7c4"/><rect x="86.6" y="56.8" width="1.2" height="1.2" fill="#b39c4a"/><rect x="20.4" y="41.6" width="1.3" height="1.3" fill="#a9b7c4"/><rect x="78.4" y="49.2" width="1.1" height="1.1" fill="#7d8748"/><rect x="59.0" y="40.7" width="2.0" height="2.0" fill="#b39c4a"/><rect x="43.0" y="48.2" width="1.7" height="1.7" fill="#c8bea0"/><rect x="69.7" y="38.0" width="1.2" height="1.2" fill="#8e9652"/><rect x="27.0" y="47.8" width="1.6" height="1.6" fill="#a9b7c4"/><rect x="68.7" y="36.4" width="1.5" height="1.5" fill="#c8bea0"/><rect x="37.0" y="52.9" width="1.6" height="1.6" fill="#c2b064"/><rect x="84.1" y="61.3" width="1.9" height="1.9" fill="#8e9652"/><rect x="41.1" y="47.3" width="1.7" height="1.7" fill="#b39c4a"/><rect x="91.5" y="58.6" width="1.7" height="1.7" fill="#a9b7c4"/><rect x="38.5" y="42.0" width="1.9" height="1.9" fill="#9dacb4"/><rect x="42.5" y="44.2" width="1.6" height="1.6" fill="#9dacb4"/><rect x="53.0" y="47.5" width="1.2" height="1.2" fill="#a9b7c4"/><rect x="29.0" y="54.9" width="1.3" height="1.3" fill="#d6c68c"/><rect x="49.6" y="61.1" width="1.8" height="1.8" fill="#a9b7c4"/><rect x="26.6" y="37.0" width="2.2" height="2.2" fill="#7d8748"/><rect x="49.9" y="38.2" width="2.1" height="2.1" fill="#7d8748"/><rect x="89.4" y="40.2" width="1.3" height="1.3" fill="#8e9652"/><rect x="81.4" y="47.6" width="1.5" height="1.5" fill="#7d8748"/><rect x="66.4" y="57.8" width="1.8" height="1.8" fill="#9dacb4"/><rect x="93.6" y="59.7" width="1.8" height="1.8" fill="#c2b064"/><rect x="38.8" y="41.7" width="1.4" height="1.4" fill="#c8bea0"/><rect x="27.1" y="47.3" width="1.7" height="1.7" fill="#b39c4a"/><rect x="81.7" y="54.3" width="1.3" height="1.3" fill="#b39c4a"/><rect x="60.7" y="46.6" width="1.7" height="1.7" fill="#8e9652"/><rect x="62.6" y="41.9" width="2.1" height="2.1" fill="#d6c68c"/><rect x="62.1" y="36.8" width="1.8" height="1.8" fill="#a9b7c4"/><rect x="29.4" y="50.3" width="1.6" height="1.6" fill="#9dacb4"/><rect x="44.0" y="63.9" width="1.5" height="1.5" fill="#c8bea0"/><rect x="86.1" y="49.6" width="1.9" height="1.9" fill="#d6c68c"/><rect x="87.7" y="52.3" width="1.7" height="1.7" fill="#b39c4a"/><rect x="31.8" y="58.4" width="2.1" height="2.1" fill="#9dacb4"/><rect x="64.7" y="39.7" width="2.0" height="2.0" fill="#b39c4a"/><rect x="71.1" y="46.9" width="1.9" height="1.9" fill="#9dacb4"/><rect x="82.1" y="41.6" width="1.7" height="1.7" fill="#a9b7c4"/><rect x="53.5" y="48.1" width="2.0" height="2.0" fill="#8e9652"/><rect x="42.4" y="56.1" width="1.9" height="1.9" fill="#7d8748"/><rect x="65.8" y="55.2" width="1.9" height="1.9" fill="#8e9652"/><rect x="34.2" y="50.0" width="1.3" height="1.3" fill="#7d8748"/><rect x="28.0" y="48.2" width="1.5" height="1.5" fill="#8e9652"/><rect x="39.0" y="53.0" width="1.5" height="1.5" fill="#c2b064"/><rect x="73.8" y="59.6" width="1.5" height="1.5" fill="#c8bea0"/><rect x="64.6" y="50.1" width="1.6" height="1.6" fill="#7d8748"/><rect x="76.1" y="50.6" width="2.2" height="2.2" fill="#7d8748"/><rect x="81.7" y="39.5" width="1.2" height="1.2" fill="#9dacb4"/><rect x="58.9" y="49.0" width="2.1" height="2.1" fill="#9dacb4"/><rect x="88.0" y="44.9" width="1.8" height="1.8" fill="#7d8748"/><rect x="74.6" y="53.9" width="1.9" height="1.9" fill="#b39c4a"/><rect x="86.1" y="62.3" width="1.4" height="1.4" fill="#c8bea0"/><rect x="37.4" y="62.2" width="2.2" height="2.2" fill="#c8bea0"/><rect x="71.8" y="51.8" width="1.4" height="1.4" fill="#b39c4a"/><rect x="68.9" y="64.2" width="2.1" height="2.1" fill="#9dacb4"/><rect x="84.9" y="48.6" width="2.0" height="2.0" fill="#d6c68c"/><rect x="68.4" y="48.6" width="1.2" height="1.2" fill="#a9b7c4"/><rect x="26.5" y="59.8" width="1.2" height="1.2" fill="#c8bea0"/><rect x="19.0" y="43.3" width="1.4" height="1.4" fill="#9dacb4"/><rect x="32.1" y="49.2" width="1.6" height="1.6" fill="#7d8748"/><rect x="29.7" y="56.8" width="1.4" height="1.4" fill="#b39c4a"/><rect x="21.4" y="63.0" width="1.4" height="1.4" fill="#c8bea0"/><rect x="29.9" y="59.3" width="2.0" height="2.0" fill="#d6c68c"/><rect x="34.4" y="61.8" width="1.9" height="1.9" fill="#c2b064"/><rect x="33.9" y="61.1" width="1.5" height="1.5" fill="#c8bea0"/><rect x="20.2" y="55.1" width="1.9" height="1.9" fill="#d6c68c"/><rect x="59.5" y="43.1" width="2.1" height="2.1" fill="#c2b064"/><rect x="68.4" y="45.2" width="2.0" height="2.0" fill="#b39c4a"/><rect x="85.1" y="57.4" width="1.2" height="1.2" fill="#c8bea0"/><rect x="50.6" y="41.1" width="2.0" height="2.0" fill="#a9b7c4"/><rect x="73.0" y="41.9" width="1.3" height="1.3" fill="#d6c68c"/><rect x="57.1" y="44.9" width="1.4" height="1.4" fill="#a9b7c4"/><rect x="63.8" y="42.9" width="1.4" height="1.4" fill="#8e9652"/><rect x="69.7" y="44.3" width="1.8" height="1.8" fill="#a9b7c4"/><rect x="54.2" y="38.3" width="2.1" height="2.1" fill="#a9b7c4"/><rect x="59.3" y="37.4" width="1.8" height="1.8" fill="#b39c4a"/><rect x="59.8" y="48.7" width="1.7" height="1.7" fill="#8e9652"/><rect x="40.7" y="58.7" width="1.4" height="1.4" fill="#b39c4a"/><rect x="74.8" y="36.9" width="2.0" height="2.0" fill="#8e9652"/><rect x="94.1" y="37.0" width="1.6" height="1.6" fill="#7d8748"/><rect x="19.2" y="62.7" width="1.2" height="1.2" fill="#a9b7c4"/><rect x="61.3" y="55.3" width="1.5" height="1.5" fill="#c8bea0"/><rect x="78.5" y="51.5" width="1.7" height="1.7" fill="#8e9652"/><rect x="64.1" y="59.1" width="1.2" height="1.2" fill="#7d8748"/><rect x="36.9" y="49.2" width="2.0" height="2.0" fill="#d6c68c"/><rect x="38.7" y="52.3" width="2.0" height="2.0" fill="#c8bea0"/><rect x="38.9" y="42.1" width="2.2" height="2.2" fill="#c2b064"/><rect x="62.5" y="62.2" width="1.3" height="1.3" fill="#8e9652"/><rect x="65.2" y="54.3" width="2.0" height="2.0" fill="#c8bea0"/><rect x="74.0" y="61.7" width="1.1" height="1.1" fill="#a9b7c4"/><rect x="88.0" y="53.1" width="1.7" height="1.7" fill="#d6c68c"/><rect x="66.4" y="37.6" width="1.6" height="1.6" fill="#9dacb4"/><rect x="81.3" y="58.2" width="2.0" height="2.0" fill="#c8bea0"/><rect x="25.7" y="60.6" width="1.3" height="1.3" fill="#b39c4a"/><rect x="37.9" y="50.9" width="1.8" height="1.8" fill="#c8bea0"/><rect x="23.6" y="48.3" width="1.5" height="1.5" fill="#d6c68c"/><rect x="72.5" y="64.7" width="1.2" height="1.2" fill="#8e9652"/><rect x="30.0" y="49.7" width="1.9" height="1.9" fill="#c2b064"/><rect x="19.3" y="48.3" width="1.7" height="1.7" fill="#a9b7c4"/><rect x="48.9" y="44.9" width="1.6" height="1.6" fill="#a9b7c4"/><rect x="92.8" y="56.4" width="1.9" height="1.9" fill="#d6c68c"/><rect x="41.5" y="39.6" width="2.0" height="2.0" fill="#7d8748"/><rect x="54.1" y="64.0" width="1.5" height="1.5" fill="#9dacb4"/><rect x="90.9" y="63.7" width="1.3" height="1.3" fill="#8e9652"/><rect x="49.6" y="55.5" width="1.2" height="1.2" fill="#9dacb4"/><rect x="62.1" y="63.4" width="2.1" height="2.1" fill="#8e9652"/><rect x="54.2" y="47.8" width="2.0" height="2.0" fill="#7d8748"/><rect x="47.8" y="37.5" width="1.6" height="1.6" fill="#d6c68c"/><rect x="33.0" y="52.5" width="1.3" height="1.3" fill="#d6c68c"/><rect x="49.4" y="53.8" width="1.9" height="1.9" fill="#c8bea0"/><rect x="53.0" y="65.8" width="1.8" height="1.8" fill="#c8bea0"/><rect x="34.5" y="47.5" width="1.2" height="1.2" fill="#b39c4a"/><rect x="46.6" y="44.2" width="1.1" height="1.1" fill="#8e9652"/><rect x="75.4" y="51.4" width="1.7" height="1.7" fill="#d6c68c"/><rect x="39.4" y="46.8" width="1.3" height="1.3" fill="#9dacb4"/><rect x="29.4" y="43.2" width="2.0" height="2.0" fill="#a9b7c4"/><rect x="20.6" y="45.7" width="1.5" height="1.5" fill="#a9b7c4"/><rect x="83.9" y="47.4" width="1.4" height="1.4" fill="#c2b064"/><rect x="42.0" y="54.2" width="1.6" height="1.6" fill="#d6c68c"/><rect x="30.5" y="53.9" width="1.1" height="1.1" fill="#b39c4a"/><rect x="50.2" y="50.4" width="1.9" height="1.9" fill="#b39c4a"/><rect x="42.9" y="49.6" width="1.5" height="1.5" fill="#d6c68c"/><rect x="82.4" y="52.0" width="1.6" height="1.6" fill="#8e9652"/><rect x="48.4" y="62.0" width="1.3" height="1.3" fill="#b39c4a"/><rect x="47.2" y="54.3" width="1.3" height="1.3" fill="#c2b064"/><rect x="75.8" y="50.5" width="1.1" height="1.1" fill="#b39c4a"/><rect x="69.2" y="38.0" width="2.0" height="2.0" fill="#9dacb4"/><rect x="69.7" y="64.7" width="2.1" height="2.1" fill="#d6c68c"/><rect x="78.5" y="43.8" width="2.0" height="2.0" fill="#a9b7c4"/><rect x="48.8" y="37.8" width="1.5" height="1.5" fill="#9dacb4"/><rect x="40.6" y="57.1" width="1.3" height="1.3" fill="#7d8748"/><rect x="34.3" y="59.0" width="1.5" height="1.5" fill="#d6c68c"/><rect x="58.6" y="58.3" width="2.1" height="2.1" fill="#8e9652"/><rect x="55.4" y="43.7" width="2.0" height="2.0" fill="#b39c4a"/><rect x="72.2" y="36.7" width="1.5" height="1.5" fill="#9dacb4"/><rect x="88.1" y="63.4" width="1.4" height="1.4" fill="#7d8748"/><rect x="56.7" y="53.6" width="1.6" height="1.6" fill="#9dacb4"/><rect x="86.3" y="38.2" width="1.1" height="1.1" fill="#9dacb4"/><rect x="86.8" y="53.0" width="1.4" height="1.4" fill="#8e9652"/><rect x="67.8" y="47.5" width="1.5" height="1.5" fill="#9dacb4"/><rect x="21.4" y="57.2" width="1.3" height="1.3" fill="#a9b7c4"/><rect x="66.7" y="54.6" width="1.6" height="1.6" fill="#7d8748"/><rect x="23.8" y="38.1" width="1.6" height="1.6" fill="#c8bea0"/><rect x="48.0" y="63.3" width="1.1" height="1.1" fill="#8e9652"/><rect x="70.9" y="44.2" width="1.6" height="1.6" fill="#c8bea0"/><rect x="93.3" y="40.5" width="1.3" height="1.3" fill="#d6c68c"/><rect x="38.6" y="42.6" width="1.7" height="1.7" fill="#7d8748"/><rect x="19.3" y="52.4" width="2.0" height="2.0" fill="#a9b7c4"/><rect x="66.5" y="52.8" width="2.0" height="2.0" fill="#9dacb4"/><rect x="39.1" y="39.1" width="1.1" height="1.1" fill="#d6c68c"/><rect x="71.8" y="56.6" width="2.2" height="2.2" fill="#8e9652"/><rect x="31.1" y="54.6" width="1.6" height="1.6" fill="#b39c4a"/><rect x="47.1" y="44.6" width="1.9" height="1.9" fill="#c8bea0"/><rect x="37.0" y="43.5" width="1.5" height="1.5" fill="#8e9652"/><rect x="88.7" y="58.1" width="2.1" height="2.1" fill="#a9b7c4"/><rect x="81.2" y="62.6" width="1.4" height="1.4" fill="#c8bea0"/><rect x="57.9" y="56.4" width="1.1" height="1.1" fill="#7d8748"/><rect x="85.1" y="37.6" width="1.4" height="1.4" fill="#7d8748"/><rect x="38.2" y="55.0" width="1.5" height="1.5" fill="#9dacb4"/><rect x="33.0" y="61.7" width="1.3" height="1.3" fill="#8e9652"/><rect x="62.1" y="48.6" width="1.9" height="1.9" fill="#b39c4a"/><rect x="79.9" y="39.8" width="1.5" height="1.5" fill="#b39c4a"/><rect x="36.6" y="41.5" width="1.1" height="1.1" fill="#8e9652"/><rect x="39.4" y="44.1" width="1.4" height="1.4" fill="#7d8748"/><rect x="48.4" y="56.4" width="1.3" height="1.3" fill="#8e9652"/><rect x="73.2" y="39.6" width="1.1" height="1.1" fill="#b39c4a"/><rect x="46.1" y="52.2" width="2.0" height="2.0" fill="#7d8748"/><rect x="44.1" y="36.8" width="1.7" height="1.7" fill="#c8bea0"/><rect x="32.0" y="38.0" width="1.6" height="1.6" fill="#b39c4a"/><rect x="36.0" y="57.7" width="1.5" height="1.5" fill="#8e9652"/><rect x="93.6" y="47.7" width="1.9" height="1.9" fill="#b39c4a"/><rect x="79.8" y="40.4" width="1.3" height="1.3" fill="#a9b7c4"/><rect x="61.3" y="62.9" width="2.1" height="2.1" fill="#7d8748"/><rect x="28.1" y="45.7" width="1.1" height="1.1" fill="#8e9652"/><rect x="39.8" y="48.0" width="1.5" height="1.5" fill="#a9b7c4"/><rect x="55.6" y="47.0" width="1.4" height="1.4" fill="#c2b064"/><rect x="30.5" y="36.2" width="1.9" height="1.9" fill="#a9b7c4"/><rect x="19.3" y="46.1" width="1.3" height="1.3" fill="#d6c68c"/><rect x="94.4" y="48.3" width="1.1" height="1.1" fill="#9dacb4"/><rect x="80.3" y="47.9" width="1.2" height="1.2" fill="#b39c4a"/><rect x="40.1" y="64.2" width="2.1" height="2.1" fill="#c8bea0"/><rect x="62.4" y="64.2" width="1.2" height="1.2" fill="#c2b064"/><rect x="90.8" y="52.2" width="1.8" height="1.8" fill="#b39c4a"/><rect x="46.3" y="58.6" width="1.4" height="1.4" fill="#c8bea0"/><rect x="19.8" y="42.3" width="2.2" height="2.2" fill="#c2b064"/><rect x="77.3" y="43.9" width="1.4" height="1.4" fill="#c8bea0"/><rect x="49.3" y="60.1" width="2.0" height="2.0" fill="#a9b7c4"/><rect x="90.1" y="50.5" width="2.0" height="2.0" fill="#7d8748"/><rect x="38.0" y="63.3" width="1.1" height="1.1" fill="#8e9652"/><rect x="36.3" y="47.7" width="1.5" height="1.5" fill="#b39c4a"/><rect x="80.6" y="46.9" width="1.8" height="1.8" fill="#9dacb4"/><rect x="42.7" y="38.0" width="1.8" height="1.8" fill="#a9b7c4"/><rect x="39.1" y="42.4" width="1.3" height="1.3" fill="#c2b064"/><rect x="75.5" y="52.4" width="1.8" height="1.8" fill="#8e9652"/><rect x="45.4" y="40.7" width="1.5" height="1.5" fill="#8e9652"/><rect x="51.7" y="36.3" width="1.7" height="1.7" fill="#7d8748"/><rect x="26.2" y="64.5" width="2.0" height="2.0" fill="#d6c68c"/><rect x="20.6" y="41.2" width="1.2" height="1.2" fill="#a9b7c4"/><rect x="63.0" y="45.6" width="1.6" height="1.6" fill="#d6c68c"/><rect x="56.9" y="59.4" width="2.1" height="2.1" fill="#b39c4a"/><rect x="24.3" y="47.7" width="2.1" height="2.1" fill="#8e9652"/><rect x="78.1" y="51.8" width="1.1" height="1.1" fill="#7d8748"/><rect x="88.2" y="37.7" width="1.8" height="1.8" fill="#9dacb4"/><rect x="86.5" y="61.7" width="1.8" height="1.8" fill="#a9b7c4"/><rect x="28.2" y="58.2" width="1.9" height="1.9" fill="#7d8748"/><rect x="69.6" y="48.6" width="1.5" height="1.5" fill="#d6c68c"/><rect x="47.5" y="52.2" width="1.1" height="1.1" fill="#c2b064"/><rect x="59.1" y="49.6" width="1.4" height="1.4" fill="#c2b064"/><rect x="64.2" y="63.9" width="1.3" height="1.3" fill="#c8bea0"/><rect x="43.9" y="43.7" width="1.8" height="1.8" fill="#d6c68c"/><rect x="75.0" y="65.7" width="1.5" height="1.5" fill="#8e9652"/><rect x="76.2" y="62.9" width="1.2" height="1.2" fill="#8e9652"/><rect x="82.9" y="55.5" width="2.1" height="2.1" fill="#a9b7c4"/><rect x="79.6" y="51.3" width="2.2" height="2.2" fill="#a9b7c4"/><rect x="33.1" y="37.1" width="1.5" height="1.5" fill="#9dacb4"/></g></g>
<circle cx="60" cy="53.2" r="12" fill="url(#spk)"/>
<path d="M60 53.2L47.3 57.0" stroke="#ffe8d2" stroke-width=".5" opacity=".55"/><path d="M60 53.2L67.0 45.3" stroke="#ffe8d2" stroke-width=".5" opacity=".55"/><path d="M60 53.2L57.4 67.1" stroke="#ffe8d2" stroke-width=".5" opacity=".55"/><path d="M60 53.2L72.0 59.2" stroke="#ffe8d2" stroke-width=".5" opacity=".55"/><path d="M60 53.2L63.0 40.6" stroke="#ffe8d2" stroke-width=".5" opacity=".55"/><path d="M60 53.2L60.8 68.6" stroke="#ffe8d2" stroke-width=".5" opacity=".55"/><path d="M60 53.2L69.3 41.2" stroke="#ffe8d2" stroke-width=".5" opacity=".55"/><path d="M60 53.2L44.5 48.3" stroke="#ffe8d2" stroke-width=".5" opacity=".55"/><path d="M60 53.2L63.0 43.4" stroke="#ffe8d2" stroke-width=".5" opacity=".55"/><path d="M60 53.2L53.5 60.5" stroke="#ffe8d2" stroke-width=".5" opacity=".55"/><path d="M60 53.2L71.5 55.9" stroke="#ffe8d2" stroke-width=".5" opacity=".55"/><path d="M60 53.2L70.4 41.4" stroke="#ffe8d2" stroke-width=".5" opacity=".55"/><path d="M60 53.2L67.7 60.2" stroke="#ffe8d2" stroke-width=".5" opacity=".55"/><path d="M60 53.2L47.9 63.4" stroke="#ffe8d2" stroke-width=".5" opacity=".55"/>
<g filter="url(#b0)"><rect x="92.5" y="5.4" width="1.1" height="1.1" fill="#a89078" opacity="0.94"/><rect x="71.7" y="26.0" width="2.1" height="2.1" fill="#b8a090" opacity="0.94"/><rect x="97.8" y="13.0" width="2.0" height="2.0" fill="#a89078" opacity="0.80"/><rect x="74.5" y="35.5" width="1.1" height="1.1" fill="#9c8a72" opacity="0.81"/><rect x="46.5" y="29.0" width="1.3" height="1.3" fill="#d2b884" opacity="0.65"/><rect x="59.8" y="38.2" width="1.1" height="1.1" fill="#d2b884" opacity="0.59"/><rect x="105.3" y="28.7" width="1.2" height="1.2" fill="#b09a70" opacity="0.53"/><rect x="66.5" y="17.5" width="1.6" height="1.6" fill="#d2b884" opacity="0.92"/><rect x="72.8" y="21.2" width="1.5" height="1.5" fill="#a59a9c" opacity="0.55"/><rect x="83.6" y="39.0" width="1.9" height="1.9" fill="#9c8a72" opacity="0.80"/><rect x="53.7" y="16.5" width="1.2" height="1.2" fill="#a89078" opacity="0.69"/><rect x="64.0" y="36.1" width="1.5" height="1.5" fill="#9c8a72" opacity="0.63"/><rect x="76.1" y="31.4" width="1.7" height="1.7" fill="#a89078" opacity="0.51"/><rect x="42.7" y="25.9" width="1.7" height="1.7" fill="#b8a090" opacity="0.89"/><rect x="66.1" y="23.0" width="1.9" height="1.9" fill="#a59a9c" opacity="0.88"/><rect x="67.6" y="35.6" width="2.0" height="2.0" fill="#d2b884" opacity="0.54"/><rect x="52.4" y="39.4" width="1.6" height="1.6" fill="#b79668" opacity="0.81"/><rect x="72.8" y="35.7" width="1.1" height="1.1" fill="#d2b884" opacity="0.58"/><rect x="74.5" y="9.9" width="1.1" height="1.1" fill="#b79668" opacity="0.60"/><rect x="91.0" y="43.6" width="1.9" height="1.9" fill="#a59a9c" opacity="0.79"/><rect x="75.0" y="47.0" width="1.5" height="1.5" fill="#a89078" opacity="0.68"/><rect x="76.3" y="14.0" width="1.5" height="1.5" fill="#b8a090" opacity="0.87"/><rect x="38.1" y="5.5" width="1.0" height="1.0" fill="#b09a70" opacity="0.93"/><rect x="98.9" y="6.0" width="1.5" height="1.5" fill="#b8a090" opacity="0.90"/><rect x="63.9" y="38.4" width="1.9" height="1.9" fill="#b79668" opacity="0.93"/><rect x="46.9" y="21.6" width="1.6" height="1.6" fill="#a59a9c" opacity="0.94"/><rect x="59.0" y="14.5" width="1.1" height="1.1" fill="#c7a674" opacity="0.76"/><rect x="84.0" y="22.7" width="1.3" height="1.3" fill="#a89078" opacity="0.66"/><rect x="55.6" y="19.2" width="1.1" height="1.1" fill="#9c8a72" opacity="0.60"/><rect x="55.1" y="34.3" width="1.2" height="1.2" fill="#c7a674" opacity="0.90"/><rect x="46.5" y="14.0" width="1.2" height="1.2" fill="#a59a9c" opacity="0.78"/><rect x="62.5" y="38.3" width="1.2" height="1.2" fill="#b8a090" opacity="0.87"/><rect x="48.0" y="15.2" width="1.0" height="1.0" fill="#b09a70" opacity="0.55"/><rect x="96.4" y="36.3" width="1.8" height="1.8" fill="#b8a090" opacity="0.85"/><rect x="63.2" y="35.2" width="1.3" height="1.3" fill="#b8a090" opacity="0.55"/><rect x="61.0" y="15.4" width="1.7" height="1.7" fill="#c7a674" opacity="0.90"/><rect x="78.0" y="19.2" width="2.0" height="2.0" fill="#b09a70" opacity="0.68"/><rect x="56.0" y="10.3" width="1.2" height="1.2" fill="#9c8a72" opacity="0.54"/><rect x="66.2" y="8.2" width="1.4" height="1.4" fill="#b09a70" opacity="0.55"/><rect x="73.0" y="42.8" width="1.6" height="1.6" fill="#b8a090" opacity="0.75"/><rect x="98.7" y="26.8" width="1.8" height="1.8" fill="#d2b884" opacity="0.51"/><rect x="67.8" y="28.9" width="1.8" height="1.8" fill="#b79668" opacity="0.72"/><rect x="64.9" y="10.7" width="1.1" height="1.1" fill="#d2b884" opacity="0.81"/><rect x="89.1" y="42.1" width="1.7" height="1.7" fill="#b09a70" opacity="0.67"/><rect x="49.6" y="3.4" width="1.1" height="1.1" fill="#a59a9c" opacity="0.58"/><rect x="79.5" y="6.6" width="1.1" height="1.1" fill="#b09a70" opacity="0.54"/><rect x="87.4" y="7.6" width="2.0" height="2.0" fill="#d2b884" opacity="0.79"/><rect x="64.6" y="25.4" width="1.7" height="1.7" fill="#a89078" opacity="0.54"/><rect x="84.4" y="36.2" width="1.3" height="1.3" fill="#b09a70" opacity="0.87"/><rect x="69.0" y="38.8" width="1.8" height="1.8" fill="#a59a9c" opacity="0.52"/><rect x="67.9" y="40.1" width="2.0" height="2.0" fill="#b79668" opacity="0.84"/><rect x="90.6" y="32.1" width="1.4" height="1.4" fill="#a59a9c" opacity="0.78"/><rect x="55.5" y="35.3" width="1.8" height="1.8" fill="#9c8a72" opacity="0.56"/><rect x="94.5" y="13.0" width="1.5" height="1.5" fill="#a59a9c" opacity="0.90"/><rect x="111.6" y="21.3" width="1.4" height="1.4" fill="#a59a9c" opacity="0.87"/><rect x="82.3" y="28.4" width="1.8" height="1.8" fill="#a59a9c" opacity="0.79"/><rect x="81.1" y="42.5" width="1.5" height="1.5" fill="#a59a9c" opacity="0.74"/><rect x="51.9" y="26.8" width="1.4" height="1.4" fill="#b8a090" opacity="0.90"/><rect x="49.3" y="6.4" width="1.5" height="1.5" fill="#b8a090" opacity="0.70"/><rect x="73.8" y="18.3" width="1.6" height="1.6" fill="#d2b884" opacity="0.88"/><rect x="53.5" y="22.9" width="1.2" height="1.2" fill="#b8a090" opacity="0.66"/><rect x="71.3" y="12.1" width="1.5" height="1.5" fill="#c7a674" opacity="0.85"/><rect x="61.3" y="5.5" width="1.3" height="1.3" fill="#b8a090" opacity="0.62"/><rect x="72.4" y="29.5" width="1.1" height="1.1" fill="#b8a090" opacity="0.87"/><rect x="56.8" y="28.7" width="2.0" height="2.0" fill="#c7a674" opacity="0.53"/><rect x="115.7" y="36.6" width="1.5" height="1.5" fill="#a89078" opacity="0.72"/><rect x="49.1" y="10.5" width="1.7" height="1.7" fill="#c7a674" opacity="0.73"/><rect x="35.1" y="12.2" width="1.6" height="1.6" fill="#d2b884" opacity="0.75"/><rect x="71.8" y="19.4" width="2.1" height="2.1" fill="#b09a70" opacity="0.66"/><rect x="38.5" y="5.9" width="1.2" height="1.2" fill="#d2b884" opacity="0.59"/><rect x="41.0" y="5.8" width="1.6" height="1.6" fill="#d2b884" opacity="0.90"/><rect x="80.6" y="29.0" width="2.0" height="2.0" fill="#b09a70" opacity="0.82"/><rect x="89.7" y="7.7" width="2.1" height="2.1" fill="#d2b884" opacity="0.55"/><rect x="38.4" y="19.3" width="1.3" height="1.3" fill="#b09a70" opacity="0.63"/><rect x="71.9" y="29.0" width="1.1" height="1.1" fill="#b09a70" opacity="0.51"/><rect x="78.7" y="44.3" width="1.4" height="1.4" fill="#c7a674" opacity="0.87"/><rect x="81.8" y="19.1" width="1.8" height="1.8" fill="#b09a70" opacity="0.74"/><rect x="59.5" y="18.3" width="1.9" height="1.9" fill="#a89078" opacity="0.79"/><rect x="75.1" y="8.4" width="1.4" height="1.4" fill="#b09a70" opacity="0.60"/><rect x="74.2" y="25.5" width="1.3" height="1.3" fill="#a59a9c" opacity="0.93"/><rect x="89.0" y="1.9" width="1.8" height="1.8" fill="#b79668" opacity="0.64"/><rect x="43.4" y="15.1" width="1.1" height="1.1" fill="#b09a70" opacity="0.94"/><rect x="61.5" y="32.0" width="2.0" height="2.0" fill="#c7a674" opacity="0.80"/><rect x="38.1" y="17.6" width="2.1" height="2.1" fill="#a59a9c" opacity="0.81"/><rect x="71.1" y="7.6" width="1.1" height="1.1" fill="#9c8a72" opacity="0.81"/><rect x="112.6" y="31.8" width="1.1" height="1.1" fill="#a89078" opacity="0.56"/><rect x="43.5" y="19.2" width="1.6" height="1.6" fill="#a59a9c" opacity="0.94"/><rect x="50.5" y="26.0" width="1.4" height="1.4" fill="#c7a674" opacity="0.82"/><rect x="111.6" y="32.1" width="2.0" height="2.0" fill="#9c8a72" opacity="0.51"/><rect x="110.7" y="16.4" width="1.6" height="1.6" fill="#d2b884" opacity="0.90"/><rect x="73.0" y="50.5" width="1.4" height="1.4" fill="#b79668" opacity="0.83"/><rect x="76.5" y="68.2" width="1.2" height="1.2" fill="#b8a090" opacity="0.84"/><rect x="101.5" y="62.7" width="1.6" height="1.6" fill="#a59a9c" opacity="0.63"/><rect x="73.9" y="56.1" width="1.7" height="1.7" fill="#a89078" opacity="0.84"/><rect x="32.6" y="67.1" width="1.2" height="1.2" fill="#a89078" opacity="0.41"/><rect x="53.1" y="83.0" width="1.4" height="1.4" fill="#d2b884" opacity="0.55"/><rect x="32.8" y="60.9" width="1.8" height="1.8" fill="#c7a674" opacity="0.48"/><rect x="63.7" y="78.8" width="1.1" height="1.1" fill="#c7a674" opacity="0.81"/><rect x="58.9" y="84.9" width="1.2" height="1.2" fill="#b09a70" opacity="0.64"/><rect x="41.5" y="50.7" width="1.2" height="1.2" fill="#d2b884" opacity="0.43"/><rect x="54.5" y="39.3" width="0.9" height="0.9" fill="#a59a9c" opacity="0.51"/><rect x="94.7" y="71.1" width="1.1" height="1.1" fill="#b8a090" opacity="0.50"/><rect x="36.7" y="50.7" width="1.6" height="1.6" fill="#a59a9c" opacity="0.43"/><rect x="85.8" y="54.7" width="1.0" height="1.0" fill="#a89078" opacity="0.76"/><rect x="32.4" y="83.8" width="1.3" height="1.3" fill="#a59a9c" opacity="0.53"/><rect x="10.5" y="61.1" width="0.9" height="0.9" fill="#b8a090" opacity="0.62"/><rect x="86.0" y="49.5" width="1.1" height="1.1" fill="#c7a674" opacity="0.43"/><rect x="93.0" y="30.1" width="1.8" height="1.8" fill="#c7a674" opacity="0.55"/><rect x="82.5" y="79.8" width="1.8" height="1.8" fill="#c7a674" opacity="0.49"/><rect x="48.7" y="39.2" width="1.7" height="1.7" fill="#9c8a72" opacity="0.80"/><rect x="27.4" y="78.9" width="1.8" height="1.8" fill="#a59a9c" opacity="0.47"/><rect x="98.3" y="52.8" width="1.6" height="1.6" fill="#d2b884" opacity="0.46"/><rect x="64.2" y="69.3" width="1.4" height="1.4" fill="#9c8a72" opacity="0.64"/><rect x="58.7" y="30.5" width="1.8" height="1.8" fill="#a89078" opacity="0.44"/><rect x="105.6" y="59.8" width="1.9" height="1.9" fill="#c7a674" opacity="0.82"/><rect x="70.8" y="73.1" width="1.5" height="1.5" fill="#9c8a72" opacity="0.53"/><rect x="24.9" y="87.0" width="1.4" height="1.4" fill="#c7a674" opacity="0.42"/><rect x="104.8" y="43.0" width="0.9" height="0.9" fill="#b8a090" opacity="0.74"/><rect x="31.0" y="50.9" width="0.9" height="0.9" fill="#a89078" opacity="0.58"/><rect x="71.8" y="53.1" width="1.3" height="1.3" fill="#a59a9c" opacity="0.83"/><rect x="34.3" y="59.5" width="0.9" height="0.9" fill="#b79668" opacity="0.54"/><rect x="31.6" y="85.3" width="1.5" height="1.5" fill="#b09a70" opacity="0.71"/><rect x="36.6" y="42.1" width="1.3" height="1.3" fill="#b8a090" opacity="0.80"/><rect x="22.2" y="67.6" width="1.2" height="1.2" fill="#9c8a72" opacity="0.83"/><rect x="61.3" y="92.5" width="1.8" height="1.8" fill="#c7a674" opacity="0.80"/><rect x="20.3" y="61.2" width="1.8" height="1.8" fill="#d2b884" opacity="0.74"/><rect x="59.5" y="83.0" width="1.1" height="1.1" fill="#b09a70" opacity="0.83"/><rect x="30.9" y="34.2" width="0.9" height="0.9" fill="#a59a9c" opacity="0.62"/><rect x="6.1" y="56.6" width="1.4" height="1.4" fill="#b79668" opacity="0.57"/><rect x="40.2" y="37.1" width="1.4" height="1.4" fill="#9c8a72" opacity="0.78"/><rect x="81.7" y="62.9" width="1.5" height="1.5" fill="#c7a674" opacity="0.43"/><rect x="81.4" y="52.5" width="1.3" height="1.3" fill="#b79668" opacity="0.44"/><rect x="60.5" y="89.6" width="1.7" height="1.7" fill="#a59a9c" opacity="0.51"/><rect x="23.7" y="67.8" width="1.8" height="1.8" fill="#9c8a72" opacity="0.62"/><rect x="71.8" y="72.1" width="1.6" height="1.6" fill="#a89078" opacity="0.63"/><rect x="31.1" y="32.1" width="1.3" height="1.3" fill="#c7a674" opacity="0.53"/><rect x="38.1" y="25.8" width="1.6" height="1.6" fill="#c7a674" opacity="0.76"/><rect x="80.5" y="72.3" width="1.6" height="1.6" fill="#b79668" opacity="0.42"/><rect x="94.5" y="48.1" width="1.4" height="1.4" fill="#b8a090" opacity="0.69"/><rect x="92.0" y="44.2" width="1.0" height="1.0" fill="#a59a9c" opacity="0.70"/><rect x="54.4" y="75.0" width="1.3" height="1.3" fill="#b09a70" opacity="0.51"/><rect x="94.5" y="53.4" width="1.0" height="1.0" fill="#b79668" opacity="0.73"/><rect x="27.8" y="64.7" width="1.3" height="1.3" fill="#b79668" opacity="0.74"/><rect x="10.0" y="40.5" width="1.5" height="1.5" fill="#b8a090" opacity="0.62"/><rect x="51.9" y="44.1" width="1.8" height="1.8" fill="#a89078" opacity="0.62"/><rect x="60.6" y="83.8" width="1.0" height="1.0" fill="#b8a090" opacity="0.47"/><rect x="45.7" y="73.0" width="1.1" height="1.1" fill="#a59a9c" opacity="0.69"/><rect x="31.7" y="87.8" width="1.8" height="1.8" fill="#b09a70" opacity="0.53"/><rect x="99.1" y="48.5" width="1.2" height="1.2" fill="#9c8a72" opacity="0.53"/><rect x="73.4" y="61.6" width="1.6" height="1.6" fill="#a89078" opacity="0.42"/><rect x="44.0" y="91.5" width="1.3" height="1.3" fill="#b8a090" opacity="0.60"/><rect x="71.7" y="61.4" width="1.3" height="1.3" fill="#b8a090" opacity="0.64"/><rect x="66.7" y="91.4" width="1.7" height="1.7" fill="#a59a9c" opacity="0.81"/><rect x="78.8" y="71.9" width="1.6" height="1.6" fill="#b09a70" opacity="0.74"/><rect x="29.4" y="44.3" width="0.9" height="0.9" fill="#c7a674" opacity="0.44"/><rect x="57.8" y="43.3" width="1.1" height="1.1" fill="#b09a70" opacity="0.65"/><rect x="64.6" y="29.6" width="1.8" height="1.8" fill="#b79668" opacity="0.52"/><rect x="47.1" y="33.3" width="1.3" height="1.3" fill="#9c8a72" opacity="0.45"/><rect x="64.6" y="73.0" width="1.8" height="1.8" fill="#b79668" opacity="0.65"/><rect x="51.0" y="85.9" width="1.3" height="1.3" fill="#b8a090" opacity="0.46"/></g></svg>
<svg style="position:absolute;left:1478.0px;top:1101.3px" width="18" height="16" viewBox="0 0 17.7 15.3"><path d="M8.85 14.2L2.3 7.9C0.6 6.2 0.5 3.7 2.1 2.1C3.7 0.5 6.2 0.6 7.7 2.2L8.85 3.5L10 2.2C11.5 0.6 14 0.5 15.6 2.1C17.2 3.7 17.1 6.2 15.4 7.9Z" fill="none" stroke="#2f3742" stroke-width="1.75" stroke-linejoin="miter"/></svg>
<div class="t" style="font-size:22.5px;color:#2f3742;letter-spacing:-0.033px;left:1501.56px;transform:scaleX(1.1500);transform-origin:0 0;"><i style="height:1115.30px"></i>595</div>
<svg style="position:absolute;left:1590px;top:976px" width="118" height="116" viewBox="0 0 118 116"><rect width="118" height="116" fill="#bdf9e9"/>
<circle cx="87.5" cy="30.5" r="21.4" fill="#c894fb"/>
<rect x="25.2" y="25.4" width="66.6" height="65.1" fill="#f97b7b"/>
<circle cx="33.5" cy="84.3" r="13.9" fill="#c894fb"/>
<g fill="#fff" font-weight="700"><text x="29.4" y="47.3" font-size="36.5" textLength="44.5" lengthAdjust="spacingAndGlyphs" stroke="#fff" stroke-width=".9">20</text><text x="66.2" y="95.2" font-size="39" textLength="23.2" lengthAdjust="spacingAndGlyphs">6</text><path d="M64.5 68.2H58.6L52.8 72.8V79.6L57.4 76V95.2H64.5Z"/><text x="36.6" y="56.6" font-size="8.3" textLength="41.5" lengthAdjust="spacingAndGlyphs">Instagram</text><text x="29.3" y="65" font-size="8.3" textLength="58.4" lengthAdjust="spacingAndGlyphs">Year in Review</text></g></svg>
<svg style="position:absolute;left:1616.2px;top:1101.3px" width="18" height="16" viewBox="0 0 17.7 15.3"><path d="M8.85 14.2L2.3 7.9C0.6 6.2 0.5 3.7 2.1 2.1C3.7 0.5 6.2 0.6 7.7 2.2L8.85 3.5L10 2.2C11.5 0.6 14 0.5 15.6 2.1C17.2 3.7 17.1 6.2 15.4 7.9Z" fill="none" stroke="#2f3742" stroke-width="1.75" stroke-linejoin="miter"/></svg>
<div class="t" style="font-size:22.5px;color:#2f3742;letter-spacing:-0.092px;left:1639.96px;transform:scaleX(1.1500);transform-origin:0 0;"><i style="height:1115.30px"></i>536</div>
<svg style="position:absolute;left:1728px;top:976px" width="118" height="116" viewBox="0 0 118 116"><defs><radialGradient id="cf" cx=".4" cy=".35" r=".7"><stop offset="0" stop-color="#3a2a2c"/><stop offset=".5" stop-color="#160c0e"/><stop offset="1" stop-color="#0c0607"/></radialGradient>
<linearGradient id="pk4" x1="0" y1="0" x2="1" y2="1"><stop offset="0" stop-color="#f8cdd9"/><stop offset="1" stop-color="#fad5df"/></linearGradient></defs>
<rect width="118" height="116" fill="url(#pk4)"/>
<g filter="url(#b1)">
<circle cx="60.5" cy="55.5" r="28.3" fill="#e9bfcb" opacity=".7"/>
<circle cx="59.7" cy="54" r="27.6" fill="#eef0f3"/>
<circle cx="59.7" cy="54" r="22" fill="#e4e7ec"/>
<path d="M76 55.5L84.5 56C86 56.2 86 60 84.5 60.4L76 61Z" fill="#f6f7f9"/>
<circle cx="60.6" cy="53.2" r="17.7" fill="#fafbfc"/>
<circle cx="60" cy="53" r="14.7" fill="url(#cf)"/>
<circle cx="20.2" cy="71.2" r="8.6" fill="#e8a9b9" opacity=".6"/><circle cx="19.7" cy="70.3" r="7.9" fill="#f5bccb"/>
<circle cx="35.4" cy="89.2" r="9.6" fill="#9cc4c4" opacity=".6"/><circle cx="34.9" cy="88.2" r="9" fill="#b4e2dc"/>
<circle cx="59.2" cy="97.4" r="8.9" fill="#e8b860" opacity=".6"/><circle cx="58.7" cy="96.4" r="8.4" fill="#f9da86"/>
</g></svg>
<svg style="position:absolute;left:1754.6px;top:1101.3px" width="18" height="16" viewBox="0 0 17.7 15.3"><path d="M8.85 14.2L2.3 7.9C0.6 6.2 0.5 3.7 2.1 2.1C3.7 0.5 6.2 0.6 7.7 2.2L8.85 3.5L10 2.2C11.5 0.6 14 0.5 15.6 2.1C17.2 3.7 17.1 6.2 15.4 7.9Z" fill="none" stroke="#2f3742" stroke-width="1.75" stroke-linejoin="miter"/></svg>
<div class="t" style="font-size:22.5px;color:#2f3742;letter-spacing:-0.223px;left:1778.37px;transform:scaleX(1.1500);transform-origin:0 0;"><i style="height:1115.30px"></i>526</div>
<svg style="position:absolute;left:1868px;top:976px" width="116" height="116" viewBox="0 0 116 116"><rect width="116" height="116" fill="#fb7f80"/><rect width="116" height="44.7" fill="#bdf9e9"/>
<rect x="21.2" y="17.8" width="75.8" height="84.9" rx="1.5" fill="#c894fb"/>
<rect x="28.8" y="48.2" width="60.6" height="28.5" fill="#bdf9e9"/>
<g fill="#fff" font-weight="700"><text x="32.3" y="38.6" font-size="14" textLength="53.5" lengthAdjust="spacingAndGlyphs">#VSCO</text><text x="31.2" y="44.8" font-size="5.6" textLength="55.4" lengthAdjust="spacingAndGlyphs" opacity=".9">has been used over</text><text x="33.9" y="84.7" font-size="5.6" textLength="50.4" lengthAdjust="spacingAndGlyphs" opacity=".85">More than double</text><text x="38" y="91.4" font-size="5.6" textLength="42.2" lengthAdjust="spacingAndGlyphs" opacity=".8">#OneDirection</text><text transform="translate(16.6 98.5) rotate(-90)" font-size="4.2" textLength="49.6" lengthAdjust="spacingAndGlyphs" opacity=".9">Top Branded Hashtag</text></g>
<g fill="#2f3a42" font-weight="700" font-size="9"><text x="32.3" y="61.4" textLength="53.2" lengthAdjust="spacingAndGlyphs">100 million</text><text x="45.5" y="70" textLength="27.4" lengthAdjust="spacingAndGlyphs">times</text></g>
<g font-weight="700" fill="#3c4a50" font-size="3.4" opacity="0.75"><text x="6" y="7.6" textLength="18.5" lengthAdjust="spacingAndGlyphs">Instagram</text><text x="109.5" y="7.6" text-anchor="end">Year in Review</text><text x="109.5" y="11.5" text-anchor="end">2016</text></g>
<text x="95.5" y="111.6" font-size="5.6" font-weight="700" fill="#fff" textLength="14.5" lengthAdjust="spacingAndGlyphs">Later</text></svg>
<svg style="position:absolute;left:1893.0px;top:1101.3px" width="18" height="16" viewBox="0 0 17.7 15.3"><path d="M8.85 14.2L2.3 7.9C0.6 6.2 0.5 3.7 2.1 2.1C3.7 0.5 6.2 0.6 7.7 2.2L8.85 3.5L10 2.2C11.5 0.6 14 0.5 15.6 2.1C17.2 3.7 17.1 6.2 15.4 7.9Z" fill="none" stroke="#2f3742" stroke-width="1.75" stroke-linejoin="miter"/></svg>
<div class="t" style="font-size:22.5px;color:#2f3742;letter-spacing:-0.440px;left:1916.76px;transform:scaleX(1.1500);transform-origin:0 0;"><i style="height:1115.30px"></i>523</div>
<svg style="position:absolute;left:2006px;top:976px" width="116" height="116" viewBox="0 0 116 116"><rect width="116" height="116" fill="#bdf9e9"/><rect width="29.4" height="76" fill="#fb7f80"/>
<circle cx="89.1" cy="50.9" r="20" fill="#f98081"/>
<g filter="url(#b1)"><rect x="40.1" y="15.5" width="47.4" height="75" rx="7" fill="#f6f6f8" stroke="#cfd0d6" stroke-width=".8"/><rect x="42.9" y="27.5" width="42.4" height="55" fill="#fff" stroke="#dcdde2" stroke-width=".4"/><rect x="58" y="21.4" width="9.5" height="1.3" rx=".6" fill="#55565c"/><circle cx="55.8" cy="22" r=".8" fill="#55565c"/><circle cx="62.8" cy="18.6" r=".6" fill="#77787e"/><circle cx="49.4" cy="34.3" r="3.6" fill="#2d2b30"/><rect x="55" y="31.6" width="9" height="1" fill="#8a8c92"/><rect x="55" y="35.2" width="8" height="1" fill="#b0b2b8"/>
<rect x="43.3" y="39.9" width="13.6" height="12.2" fill="#4b3232"/>
<rect x="57.3" y="39.9" width="13.6" height="12.2" fill="#8c8c88"/>
<rect x="71.3" y="39.9" width="13.6" height="12.2" fill="#7d9594"/>
<rect x="43.3" y="52.5" width="13.6" height="12.2" fill="#c9d2d3"/>
<rect x="57.3" y="52.5" width="13.6" height="12.2" fill="#3a2a2b"/>
<rect x="71.3" y="52.5" width="13.6" height="12.2" fill="#b3a684"/>
<rect x="43.3" y="65.1" width="13.6" height="12.2" fill="#8b9da4"/>
<rect x="57.3" y="65.1" width="13.6" height="12.2" fill="#2f3036"/>
<rect x="71.3" y="65.1" width="13.6" height="12.2" fill="#c3cbcc"/>
</g>
<rect y="75.8" width="116" height="40.2" fill="#c08cf8"/>
<g fill="#fff" font-weight="700"><text x="6.4" y="89.6" font-size="10.8" textLength="66.2" lengthAdjust="spacingAndGlyphs">Planning the</text><text x="31.2" y="100.7" font-size="10.8" textLength="63.2" lengthAdjust="spacingAndGlyphs">Perfect Feed</text><text transform="translate(19.6 57.8) rotate(-90)" font-size="3.9" textLength="40" lengthAdjust="spacingAndGlyphs" opacity=".85">Top Instagram for</text><text transform="translate(24 57.8) rotate(-90)" font-size="3.9" textLength="34" lengthAdjust="spacingAndGlyphs" opacity=".85">Business Trend</text></g>
<g font-weight="700" fill="#3c4a50" font-size="3.4" opacity="0.75"><text x="109.5" y="7.6" text-anchor="end">Year in Review</text><text x="109.5" y="11.5" text-anchor="end">2016</text></g>
<text x="6" y="7.6" font-size="3.4" font-weight="700" fill="#c25a60" textLength="18.5" lengthAdjust="spacingAndGlyphs" opacity=".8">Instagram</text>
<text x="95.3" y="111.6" font-size="5.6" font-weight="700" fill="#fff" textLength="14.5" lengthAdjust="spacingAndGlyphs">Later</text></svg>
<svg style="position:absolute;left:2032.8px;top:1101.3px" width="18" height="16" viewBox="0 0 17.7 15.3"><path d="M8.85 14.2L2.3 7.9C0.6 6.2 0.5 3.7 2.1 2.1C3.7 0.5 6.2 0.6 7.7 2.2L8.85 3.5L10 2.2C11.5 0.6 14 0.5 15.6 2.1C17.2 3.7 17.1 6.2 15.4 7.9Z" fill="none" stroke="#2f3742" stroke-width="1.75" stroke-linejoin="miter"/></svg>
<div class="t" style="font-size:22.5px;color:#2f3742;letter-spacing:1.030px;left:2056.57px;transform:scaleX(1.1500);transform-origin:0 0;"><i style="height:1115.30px"></i>50</div><svg style="position:absolute;left:2086px;top:1097px" width="11" height="21" viewBox="2086 1097 11 21"><path d="M2093.60 1099.80L2091.90 1099.80L2088.20 1102.67L2088.20 1104.84L2091.40 1102.36L2091.40 1115.30L2093.60 1115.30Z" fill="#2f3742"/></svg>
<svg width="0" height="0" style="position:absolute"><defs>
<filter id="b2" x="-10%" y="-10%" width="120%" height="120%"><feGaussianBlur stdDeviation="1.6"/></filter>
<filter id="b3" x="-10%" y="-10%" width="120%" height="120%"><feGaussianBlur stdDeviation="2.4"/></filter>
<filter id="b0" x="-5%" y="-5%" width="110%" height="110%"><feGaussianBlur stdDeviation="0.3"/></filter>
<filter id="b1" x="-10%" y="-10%" width="120%" height="120%"><feGaussianBlur stdDeviation="0.5"/></filter>
<clipPath id="phc"><rect width="124" height="156.5"/></clipPath>
</defs></svg>
<svg style="position:absolute;left:1882px;top:584px" width="254" height="254" viewBox="0 0 254 254">
<defs><linearGradient id="tlg" x1="0" y1="0" x2="0" y2="1"><stop offset="0" stop-color="#23252f" stop-opacity="0"/><stop offset=".55" stop-color="#2a2734" stop-opacity="0"/><stop offset=".72" stop-color="#2a2734" stop-opacity=".13"/><stop offset=".83" stop-color="#2a2734" stop-opacity=".46"/><stop offset=".91" stop-color="#292835" stop-opacity=".76"/><stop offset="1" stop-color="#272836" stop-opacity=".97"/></linearGradient></defs>
<rect width="254" height="254" fill="#fb7f80"/><rect width="254" height="82" fill="#bdf9e9"/>
<circle cx="103" cy="83" r="62.5" fill="#c894fb"/><circle cx="29.5" cy="171.5" r="35.6" fill="#c894fb"/>
<text transform="translate(104.6 132) rotate(-90)" font-size="9.2" font-weight="700" fill="#fff" opacity=".85" filter="url(#b1)" textLength="99" lengthAdjust="spacingAndGlyphs">Queen of Instagram</text>
<g transform="translate(115.6 33)"><g clip-path="url(#phc)">
<rect width="124" height="157" fill="#2b2936"/>
<g filter="url(#b2)">
<rect x="-3" y="-3" width="11" height="106" fill="#6f5b55"/>
<rect x="8" y="-3" width="8" height="30" fill="#37323c"/>
<path d="M8 30C12 14 24 4 40 2L8 2Z" fill="#2f2a34"/>
<path d="M14 22C22 6 44 1 62 2C86 3 102 12 108 30C114 52 118 80 121 104C124 124 122 146 116 160L62 160L60 96L36 100C24 104 10 100 8 84C6 60 8 38 14 22Z" fill="#84483a"/>
<path d="M12 90C8 66 12 40 24 22C22 44 24 70 34 98Z" fill="#4e2722"/>
<path d="M22 30C18 52 22 76 30 96" fill="none" stroke="#a9674e" stroke-width="6" opacity=".85"/>
<path d="M30 16C44 4 72 2 92 16" fill="none" stroke="#55292a" stroke-width="11" opacity=".9"/>
<path d="M52 8C66 6 84 12 96 28" fill="none" stroke="#9a5a46" stroke-width="5" opacity=".8"/>
<path d="M80 24C96 46 98 84 92 118C88 136 92 150 96 160" fill="none" stroke="#5a2b27" stroke-width="10" opacity=".8"/>
<path d="M92 22C110 50 112 92 106 126C104 140 108 152 110 160" fill="none" stroke="#b57a5e" stroke-width="8" opacity=".85"/>
<path d="M104 36C116 64 120 100 118 130" fill="none" stroke="#6e382e" stroke-width="7" opacity=".85"/>
<path d="M76 70C84 96 80 128 84 160" fill="none" stroke="#a5644c" stroke-width="6" opacity=".8"/>
<path d="M70 112C76 130 98 150 112 158" fill="none" stroke="#55282a" stroke-width="9" opacity=".7"/>
<path d="M112 108C120 104 128 110 128 124L128 146C120 144 114 130 112 108Z" fill="#dcae90"/>
<path d="M-4 106C6 97 24 95 32 102C36 120 36 140 40 160L-4 160Z" fill="#e3b596"/>
<path d="M-4 120C4 112 12 112 16 120L14 160L-4 160Z" fill="#ecc4a6"/>
<path d="M30 96L70 94L78 160L30 160Z" fill="#d9a688"/>
<path d="M38 72L66 72L68 100L34 100Z" fill="#d9a687"/>
<path d="M32 40C32 24 42 16 55 16C68 16 77 26 77 42C77 58 68 74 54 81C42 76 32 58 32 40Z" fill="#d9a98f"/>
<path d="M33 40C33 26 42 18 52 18C50 36 48 56 50 78C40 72 33 56 33 40Z" fill="#e4b89f"/>
<path d="M57 14C46 16 34 24 31 44C30 54 33 64 36 72C30 60 24 40 32 24C38 14 48 10 57 14Z" fill="#6f3a2f"/>
<path d="M57 14C70 14 80 24 80 44C80 58 76 70 72 80C84 62 88 36 78 22C72 14 64 12 57 14Z" fill="#6f3a2f"/>
<path d="M37 37C42 33.5 48 34 52 37.5L51 43.5C47 41.5 42 41.5 38 43.5Z" fill="#4a2a26"/>
<path d="M60 38.5C65 35 71 35.5 76 39.5L74.5 44.5C70 42.5 65 42.5 61 44.5Z" fill="#4a2a26"/>
<ellipse cx="55" cy="54" rx="3" ry="2.2" fill="#c8937a"/>
<ellipse cx="53.5" cy="65.5" rx="7.5" ry="2.8" fill="#d58a92"/>
<path d="M17 96L28 91L39 102L37 118L30 116Z" fill="#c92838"/>
<path d="M52 117L81 105L88 160L43 160L47 131Z" fill="#c32434"/>
<path d="M64 112L81 105L88 160L70 160Z" fill="#a81d2e"/>
<path d="M39 98C44 88 60 85 70 90C77 96 75 110 66 116C54 120 40 112 39 98Z" fill="#e6bb9e"/>
<path d="M36 108C44 106 52 116 50 130C48 146 46 154 44 160L30 160C34 140 34 122 36 108Z" fill="#e0b193"/>
<path d="M44 98L72 94M44 104L72 101M46 110L70 108" stroke="#c99476" stroke-width="1.4" opacity=".7"/>
<path d="M56 67L64 110" stroke="#f4dccb" stroke-width="2.2" opacity=".95"/>
<path d="M58 124L74 122L77 160L56 160Z" fill="#43212a"/>
<path d="M58 110L73 108L74 126L58 127Z" fill="#e07088" opacity=".9"/>
<rect x="62" y="146" width="10" height="5" fill="#b6bcc8" opacity=".85"/>
</g>
</g></g>
<g font-weight="700" fill="#3c4a50" font-size="7.2" filter="url(#b1)" opacity=".85"><text x="13.9" y="16.6" textLength="39" lengthAdjust="spacingAndGlyphs">Instagram</text><text x="240" y="16.6" text-anchor="end">Year in Review</text><text x="240" y="25.2" text-anchor="end">2016</text></g>
<g font-weight="700" fill="#fff" stroke="#fff" stroke-width=".9" filter="url(#b1)"><text x="28.5" y="193.7" font-size="37.5" textLength="129.5" lengthAdjust="spacingAndGlyphs">Selena</text><text x="59" y="231" font-size="37.5" textLength="131" lengthAdjust="spacingAndGlyphs">Gomez</text>
<text x="210" y="241.5" font-size="11.5" textLength="28" lengthAdjust="spacingAndGlyphs" stroke="none">Later</text></g>
<rect width="254" height="254" fill="url(#tlg)"/>
<text x="16.2" y="233.8" font-size="21.5" fill="#fff" stroke="#fff" stroke-width=".45" textLength="93.5" lengthAdjust="spacing">Top Liked</text>
</svg>
<svg style="position:absolute;left:120px;top:14px" width="76" height="68" viewBox="120 14 76 68">
<defs><radialGradient id="igg" cx="0.3" cy="1.07" r="1.3"><stop offset="0" stop-color="#fdd86f"/><stop offset=".12" stop-color="#fcb045"/><stop offset=".38" stop-color="#f0503c"/><stop offset=".6" stop-color="#d6249f"/><stop offset=".9" stop-color="#6a45c8"/></radialGradient><clipPath id="avc"><circle cx="152" cy="45.9" r="28"/></clipPath></defs>
<circle cx="152" cy="45.9" r="28" fill="#14465f"/>
<rect x="137.6" y="29" width="5.5" height="5.5" fill="#8a7a3a"/>
<rect x="160.1" y="29" width="5.5" height="5.5" fill="#8aa8e6"/>
<rect x="165.6" y="29" width="5.5" height="5.5" fill="#aed64a"/>
<rect x="165.8" y="34.7" width="5.5" height="5.5" fill="#1cc0ff"/>
<rect x="132" y="40.2" width="5.5" height="5.5" fill="#22bffa"/>
<rect x="155" y="40.1" width="5.5" height="5.5" fill="#4a7b7c"/>
<rect x="138.1" y="45.8" width="5.5" height="5.5" fill="#2b4c82"/>
<rect x="149.2" y="45.8" width="5.5" height="5.5" fill="#8c6264"/>
<rect x="143.7" y="57.3" width="5.5" height="5.5" fill="#2f82c4"/>
<path d="M143.7 34.8H149.1V51.7H154.7V57.1H143.7Z" fill="#fff"/>
<circle cx="172.1" cy="60.8" r="17.4" fill="url(#igg)"/>
<rect x="163.1" y="51.7" width="17.1" height="17.1" rx="4.6" fill="none" stroke="#fff" stroke-width="2"/>
<circle cx="171.65" cy="60.25" r="4.1" fill="none" stroke="#fff" stroke-width="2"/><circle cx="176.9" cy="55" r="1.15" fill="#fff"/>
</svg>
</body></html>
